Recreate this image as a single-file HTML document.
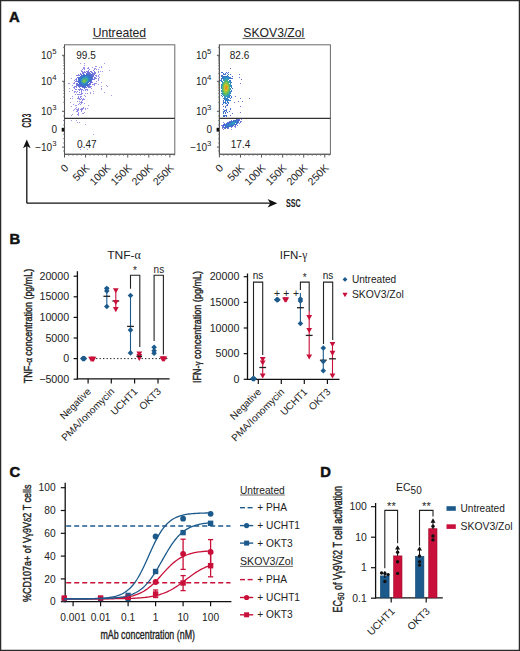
<!DOCTYPE html>
<html><head><meta charset="utf-8"><style>html,body{margin:0;padding:0;background:#fff;}svg{display:block;}</style></head>
<body>
<svg width="520" height="651" viewBox="0 0 520 651" font-family="Liberation Sans, sans-serif">
<defs><filter id="bl" x="-5%" y="-5%" width="110%" height="110%"><feGaussianBlur stdDeviation="0.6"/></filter></defs>
<rect x="0" y="0" width="520" height="651" fill="#fff"/>
<text x="9.00" y="22.00" font-size="14.8" text-anchor="start" font-weight="bold" fill="#111" stroke="#111" stroke-width="0.5">A</text>
<text x="119.40" y="36.80" font-size="12.2" text-anchor="middle" font-weight="normal" fill="#222" >Untreated</text>
<line x1="92.60" y1="38.40" x2="146.20" y2="38.40" stroke="#444" stroke-width="0.9" />
<g filter="url(#bl)">
<rect x="109" y="70" width="1" height="1" fill="#a49be9"/>
<rect x="111" y="95" width="1" height="1" fill="#a49be9"/>
<rect x="93" y="134" width="1" height="1" fill="#a49be9"/>
<rect x="85" y="124" width="1" height="1" fill="#a49be9"/>
<rect x="87" y="149" width="1" height="1" fill="#a49be9"/>
<rect x="71" y="120" width="1" height="1" fill="#a49be9"/>
<rect x="104" y="92" width="1" height="1" fill="#a49ae9"/>
<rect x="104" y="63" width="1" height="1" fill="#a49ae9"/>
<rect x="80" y="63" width="1" height="1" fill="#a49ae9"/>
<rect x="80" y="149" width="1" height="1" fill="#a39ae9"/>
<rect x="82" y="146" width="1" height="1" fill="#a39ae9"/>
<rect x="71" y="78" width="1" height="1" fill="#a39ae9"/>
<rect x="88" y="105" width="1" height="1" fill="#a39ae9"/>
<rect x="101" y="82" width="1" height="1" fill="#a39ae9"/>
<rect x="70" y="102" width="1" height="1" fill="#a39ae9"/>
<rect x="69" y="91" width="1" height="1" fill="#a39ae9"/>
<rect x="69" y="88" width="1" height="1" fill="#a39ae9"/>
<rect x="76" y="120" width="1" height="1" fill="#a299e8"/>
<rect x="71" y="106" width="1" height="1" fill="#a299e8"/>
<rect x="79" y="122" width="1" height="1" fill="#a299e8"/>
<rect x="84" y="63" width="1" height="1" fill="#a299e8"/>
<rect x="102" y="71" width="1" height="1" fill="#a199e8"/>
<rect x="70" y="98" width="1" height="1" fill="#a198e8"/>
<rect x="101" y="86" width="1" height="1" fill="#a198e8"/>
<rect x="93" y="91" width="1" height="1" fill="#a198e8"/>
<rect x="107" y="86" width="1" height="1" fill="#a198e8"/>
<rect x="106" y="85" width="1" height="1" fill="#a198e8"/>
<rect x="71" y="115" width="1" height="1" fill="#a198e8"/>
<rect x="72" y="96" width="1" height="1" fill="#a198e8"/>
<rect x="93" y="93" width="1" height="1" fill="#a198e8"/>
<rect x="72" y="114" width="1" height="1" fill="#a198e8"/>
<rect x="77" y="122" width="1" height="1" fill="#a198e8"/>
<rect x="98" y="84" width="1" height="1" fill="#a098e8"/>
<rect x="68" y="83" width="1" height="1" fill="#a097e8"/>
<rect x="72" y="98" width="1" height="1" fill="#a097e8"/>
<rect x="84" y="103" width="1" height="1" fill="#a097e8"/>
<rect x="87" y="108" width="1" height="1" fill="#a097e8"/>
<rect x="101" y="89" width="1" height="1" fill="#a097e8"/>
<rect x="69" y="83" width="1" height="1" fill="#a097e8"/>
<rect x="90" y="93" width="1" height="1" fill="#9f96e7"/>
<rect x="101" y="66" width="1" height="1" fill="#9f96e7"/>
<rect x="101" y="88" width="1" height="1" fill="#9f96e7"/>
<rect x="90" y="92" width="1" height="1" fill="#9f96e7"/>
<rect x="73" y="110" width="1" height="1" fill="#9e96e7"/>
<rect x="101" y="67" width="1" height="1" fill="#9e96e7"/>
<rect x="99" y="67" width="1" height="1" fill="#9e96e7"/>
<rect x="92" y="67" width="1" height="1" fill="#9e96e7"/>
<rect x="85" y="96" width="1" height="1" fill="#9e95e7"/>
<rect x="87" y="93" width="1" height="1" fill="#9e95e7"/>
<rect x="84" y="65" width="1" height="1" fill="#9e95e7"/>
<rect x="72" y="90" width="1" height="1" fill="#9e95e7"/>
<rect x="100" y="71" width="1" height="1" fill="#9d95e7"/>
<rect x="84" y="112" width="1" height="1" fill="#9d95e7"/>
<rect x="77" y="101" width="1" height="1" fill="#9d95e7"/>
<rect x="96" y="66" width="1" height="1" fill="#9d95e7"/>
<rect x="73" y="104" width="1" height="1" fill="#9d95e7"/>
<rect x="75" y="94" width="1" height="1" fill="#9d94e7"/>
<rect x="98" y="69" width="1" height="1" fill="#9c94e7"/>
<rect x="83" y="113" width="1" height="1" fill="#9c94e7"/>
<rect x="95" y="66" width="1" height="1" fill="#9c94e7"/>
<rect x="78" y="115" width="1" height="1" fill="#9b93e6"/>
<rect x="82" y="113" width="1" height="1" fill="#9b93e6"/>
<rect x="84" y="95" width="1" height="1" fill="#9b93e6"/>
<rect x="75" y="105" width="1" height="1" fill="#9b93e6"/>
<rect x="98" y="80" width="1" height="1" fill="#9a93e6"/>
<rect x="85" y="109" width="1" height="1" fill="#9a93e6"/>
<rect x="98" y="71" width="1" height="1" fill="#9a92e6"/>
<rect x="98" y="72" width="1" height="1" fill="#9a92e6"/>
<rect x="99" y="74" width="1" height="1" fill="#9a92e6"/>
<rect x="76" y="105" width="1" height="1" fill="#9a92e6"/>
<rect x="85" y="93" width="1" height="1" fill="#9a92e6"/>
<rect x="88" y="67" width="1" height="1" fill="#9a92e6"/>
<rect x="91" y="88" width="1" height="1" fill="#9a92e6"/>
<rect x="85" y="108" width="1" height="1" fill="#9a92e6"/>
<rect x="74" y="109" width="1" height="1" fill="#9992e6"/>
<rect x="84" y="99" width="1" height="1" fill="#9992e6"/>
<rect x="96" y="81" width="1" height="1" fill="#9992e6"/>
<rect x="72" y="85" width="1" height="1" fill="#9991e6"/>
<rect x="77" y="114" width="1" height="1" fill="#9991e6"/>
<rect x="74" y="92" width="1" height="1" fill="#9891e6"/>
<rect x="78" y="114" width="1" height="1" fill="#9790e5"/>
<rect x="78" y="104" width="1" height="1" fill="#9790e5"/>
<rect x="76" y="107" width="1" height="1" fill="#9790e5"/>
<rect x="96" y="69" width="1" height="1" fill="#9790e5"/>
<rect x="80" y="104" width="1" height="1" fill="#978fe5"/>
<rect x="94" y="85" width="1" height="1" fill="#978fe5"/>
<rect x="98" y="79" width="1" height="1" fill="#978fe5"/>
<rect x="77" y="94" width="1" height="1" fill="#978fe5"/>
<rect x="75" y="108" width="1" height="1" fill="#968fe5"/>
<rect x="77" y="98" width="1" height="1" fill="#968fe5"/>
<rect x="96" y="83" width="1" height="1" fill="#968fe5"/>
<rect x="73" y="83" width="1" height="1" fill="#968fe5"/>
<rect x="87" y="68" width="1" height="1" fill="#968fe5"/>
<rect x="84" y="67" width="1" height="1" fill="#968ee5"/>
<rect x="83" y="67" width="1" height="1" fill="#958ee5"/>
<rect x="87" y="90" width="1" height="1" fill="#958ee5"/>
<rect x="83" y="98" width="1" height="1" fill="#958ee5"/>
<rect x="78" y="113" width="1" height="1" fill="#958ee5"/>
<rect x="76" y="92" width="1" height="1" fill="#958ee5"/>
<rect x="74" y="91" width="1" height="1" fill="#958ee5"/>
<rect x="95" y="68" width="1" height="1" fill="#958ee5"/>
<rect x="83" y="107" width="1" height="1" fill="#958ee5"/>
<rect x="76" y="75" width="1" height="1" fill="#958ee5"/>
<rect x="82" y="102" width="1" height="1" fill="#948de4"/>
<rect x="78" y="108" width="1" height="1" fill="#948de4"/>
<rect x="99" y="77" width="1" height="1" fill="#948de4"/>
<rect x="83" y="99" width="1" height="1" fill="#948de4"/>
<rect x="88" y="68" width="1" height="1" fill="#948de4"/>
<rect x="73" y="87" width="1" height="1" fill="#948de4"/>
<rect x="94" y="68" width="1" height="1" fill="#948de4"/>
<rect x="79" y="101" width="1" height="1" fill="#948de4"/>
<rect x="81" y="103" width="1" height="1" fill="#948de4"/>
<rect x="79" y="103" width="1" height="1" fill="#948de4"/>
<rect x="98" y="75" width="1" height="1" fill="#938ce4"/>
<rect x="81" y="70" width="1" height="1" fill="#938ce4"/>
<rect x="78" y="112" width="1" height="1" fill="#938ce4"/>
<rect x="84" y="68" width="1" height="1" fill="#938ce4"/>
<rect x="98" y="78" width="1" height="1" fill="#938ce4"/>
<rect x="78" y="94" width="1" height="1" fill="#938ce4"/>
<rect x="77" y="91" width="1" height="1" fill="#928ce4"/>
<rect x="81" y="111" width="1" height="1" fill="#928ce4"/>
<rect x="75" y="91" width="1" height="1" fill="#928ce4"/>
<rect x="78" y="96" width="1" height="1" fill="#928be4"/>
<rect x="95" y="83" width="1" height="1" fill="#928be4"/>
<rect x="76" y="111" width="1" height="1" fill="#928be4"/>
<rect x="82" y="93" width="1" height="1" fill="#928be4"/>
<rect x="84" y="69" width="1" height="1" fill="#928be4"/>
<rect x="81" y="96" width="1" height="1" fill="#928be4"/>
<rect x="83" y="68" width="1" height="1" fill="#928be4"/>
<rect x="82" y="69" width="1" height="1" fill="#928be4"/>
<rect x="82" y="100" width="1" height="1" fill="#928be4"/>
<rect x="94" y="84" width="1" height="1" fill="#918ae3"/>
<rect x="81" y="102" width="1" height="1" fill="#918ae3"/>
<rect x="82" y="99" width="1" height="1" fill="#918ae3"/>
<rect x="80" y="102" width="1" height="1" fill="#918ae3"/>
<rect x="74" y="80" width="1" height="1" fill="#908ae3"/>
<rect x="98" y="76" width="1" height="1" fill="#908ae3"/>
<rect x="81" y="101" width="1" height="1" fill="#908ae3"/>
<rect x="76" y="109" width="1" height="1" fill="#908ae3"/>
<rect x="91" y="86" width="1" height="1" fill="#908ae3"/>
<rect x="78" y="97" width="1" height="1" fill="#9089e3"/>
<rect x="93" y="84" width="1" height="1" fill="#9089e3"/>
<rect x="78" y="109" width="1" height="1" fill="#8f89e3"/>
<rect x="83" y="108" width="1" height="1" fill="#8f89e3"/>
<rect x="94" y="83" width="1" height="1" fill="#8f89e3"/>
<rect x="78" y="98" width="1" height="1" fill="#8f89e3"/>
<rect x="96" y="78" width="1" height="1" fill="#8f89e3"/>
<rect x="79" y="94" width="1" height="1" fill="#8f89e3"/>
<rect x="81" y="98" width="1" height="1" fill="#8f89e3"/>
<rect x="74" y="88" width="1" height="1" fill="#8f89e3"/>
<rect x="89" y="69" width="1" height="1" fill="#8f89e3"/>
<rect x="77" y="111" width="1" height="1" fill="#8f89e3"/>
<rect x="80" y="96" width="1" height="1" fill="#8f89e3"/>
<rect x="94" y="69" width="1" height="1" fill="#8f88e3"/>
<rect x="81" y="71" width="1" height="1" fill="#8f88e3"/>
<rect x="87" y="89" width="1" height="1" fill="#8f88e3"/>
<rect x="85" y="90" width="1" height="1" fill="#8e88e3"/>
<rect x="74" y="83" width="1" height="1" fill="#8e88e3"/>
<rect x="80" y="109" width="1" height="1" fill="#8e88e3"/>
<rect x="74" y="82" width="1" height="1" fill="#8e88e3"/>
<rect x="79" y="99" width="1" height="1" fill="#8e88e3"/>
<rect x="78" y="110" width="1" height="1" fill="#8e88e3"/>
<rect x="81" y="94" width="1" height="1" fill="#8e88e3"/>
<rect x="77" y="109" width="1" height="1" fill="#8e88e3"/>
<rect x="76" y="89" width="1" height="1" fill="#8e88e3"/>
<rect x="74" y="87" width="1" height="1" fill="#8e88e3"/>
<rect x="74" y="86" width="1" height="1" fill="#8e88e3"/>
<rect x="96" y="75" width="1" height="1" fill="#8e88e3"/>
<rect x="79" y="92" width="1" height="1" fill="#8e88e3"/>
<rect x="83" y="90" width="1" height="1" fill="#8e88e3"/>
<rect x="80" y="99" width="1" height="1" fill="#8e88e3"/>
<rect x="81" y="108" width="1" height="1" fill="#8e88e3"/>
<rect x="75" y="89" width="1" height="1" fill="#8d87e2"/>
<rect x="80" y="97" width="1" height="1" fill="#8d87e2"/>
<rect x="81" y="110" width="1" height="1" fill="#8d87e2"/>
<rect x="81" y="93" width="1" height="1" fill="#8d87e2"/>
<rect x="80" y="94" width="1" height="1" fill="#8d87e2"/>
<rect x="92" y="84" width="1" height="1" fill="#8d87e2"/>
<rect x="77" y="110" width="1" height="1" fill="#8d87e2"/>
<rect x="96" y="76" width="1" height="1" fill="#8d87e2"/>
<rect x="81" y="92" width="1" height="1" fill="#8d87e2"/>
<rect x="90" y="87" width="1" height="1" fill="#8c86e2"/>
<rect x="82" y="108" width="1" height="1" fill="#8c86e2"/>
<rect x="79" y="98" width="1" height="1" fill="#8c86e2"/>
<rect x="78" y="89" width="1" height="1" fill="#8c86e2"/>
<rect x="81" y="109" width="1" height="1" fill="#8b85e2"/>
<rect x="82" y="109" width="1" height="1" fill="#8b85e2"/>
<rect x="81" y="91" width="1" height="1" fill="#8a85e2"/>
<rect x="82" y="71" width="1" height="1" fill="#8a84e1"/>
<rect x="95" y="78" width="1" height="1" fill="#8984e1"/>
<rect x="77" y="75" width="1" height="1" fill="#8984e1"/>
<rect x="84" y="71" width="1" height="1" fill="#8983e1"/>
<rect x="79" y="90" width="1" height="1" fill="#8983e1"/>
<rect x="75" y="79" width="1" height="1" fill="#8983e1"/>
<rect x="86" y="89" width="1" height="1" fill="#8883e1"/>
<rect x="78" y="74" width="1" height="1" fill="#8883e1"/>
<rect x="75" y="86" width="1" height="1" fill="#8882e1"/>
<rect x="95" y="72" width="1" height="1" fill="#8782e1"/>
<rect x="76" y="87" width="1" height="1" fill="#8782e1"/>
<rect x="93" y="70" width="1" height="1" fill="#8782e1"/>
<rect x="95" y="77" width="1" height="1" fill="#8782e1"/>
<rect x="81" y="90" width="1" height="1" fill="#8782e1"/>
<rect x="79" y="89" width="1" height="1" fill="#8681e0"/>
<rect x="95" y="75" width="1" height="1" fill="#8681e0"/>
<rect x="94" y="79" width="1" height="1" fill="#8681e0"/>
<rect x="95" y="73" width="1" height="1" fill="#8681e0"/>
<rect x="90" y="86" width="1" height="1" fill="#8681e0"/>
<rect x="82" y="89" width="1" height="1" fill="#8581e0"/>
<rect x="88" y="70" width="1" height="1" fill="#8581e0"/>
<rect x="89" y="87" width="1" height="1" fill="#8481e0"/>
<rect x="75" y="81" width="1" height="1" fill="#8480e0"/>
<rect x="81" y="89" width="1" height="1" fill="#8480e0"/>
<rect x="85" y="89" width="1" height="1" fill="#8480e0"/>
<rect x="80" y="89" width="1" height="1" fill="#8380e0"/>
<rect x="94" y="71" width="1" height="1" fill="#8280df"/>
<rect x="80" y="73" width="1" height="1" fill="#827fdf"/>
<rect x="86" y="71" width="1" height="1" fill="#817fdf"/>
<rect x="82" y="72" width="1" height="1" fill="#817fdf"/>
<rect x="94" y="78" width="1" height="1" fill="#807fdf"/>
<rect x="80" y="88" width="1" height="1" fill="#807fdf"/>
<rect x="76" y="86" width="1" height="1" fill="#7f7edf"/>
<rect x="92" y="82" width="1" height="1" fill="#7f7ede"/>
<rect x="91" y="71" width="1" height="1" fill="#7f7ede"/>
<rect x="76" y="78" width="1" height="1" fill="#7e7ede"/>
<rect x="94" y="77" width="1" height="1" fill="#7e7dde"/>
<rect x="83" y="72" width="1" height="1" fill="#7d7dde"/>
<rect x="90" y="71" width="1" height="1" fill="#7d7dde"/>
<rect x="94" y="72" width="1" height="1" fill="#7d7dde"/>
<rect x="88" y="87" width="1" height="1" fill="#7d7dde"/>
<rect x="78" y="75" width="1" height="1" fill="#7c7dde"/>
<rect x="84" y="72" width="1" height="1" fill="#7c7dde"/>
<rect x="87" y="71" width="1" height="1" fill="#7b7cdd"/>
<rect x="89" y="86" width="1" height="1" fill="#7b7cdd"/>
<rect x="94" y="73" width="1" height="1" fill="#7a7cdd"/>
<rect x="90" y="84" width="1" height="1" fill="#7a7cdd"/>
<rect x="94" y="74" width="1" height="1" fill="#7a7cdd"/>
<rect x="85" y="72" width="1" height="1" fill="#797cdd"/>
<rect x="88" y="71" width="1" height="1" fill="#797bdd"/>
<rect x="76" y="79" width="1" height="1" fill="#787bdd"/>
<rect x="79" y="87" width="1" height="1" fill="#787bdc"/>
<rect x="76" y="85" width="1" height="1" fill="#777bdc"/>
<rect x="76" y="81" width="1" height="1" fill="#767adc"/>
<rect x="93" y="79" width="1" height="1" fill="#767adc"/>
<rect x="76" y="80" width="1" height="1" fill="#767adc"/>
<rect x="92" y="72" width="1" height="1" fill="#757adc"/>
<rect x="76" y="83" width="1" height="1" fill="#7479dc"/>
<rect x="76" y="84" width="1" height="1" fill="#7479db"/>
<rect x="91" y="72" width="1" height="1" fill="#7479db"/>
<rect x="89" y="85" width="1" height="1" fill="#7379db"/>
<rect x="80" y="74" width="1" height="1" fill="#7278db"/>
<rect x="93" y="73" width="1" height="1" fill="#7278db"/>
<rect x="84" y="88" width="1" height="1" fill="#7278db"/>
<rect x="77" y="77" width="1" height="1" fill="#7278db"/>
<rect x="82" y="73" width="1" height="1" fill="#7178db"/>
<rect x="88" y="86" width="1" height="1" fill="#6f77da"/>
<rect x="79" y="75" width="1" height="1" fill="#6e77da"/>
<rect x="93" y="76" width="1" height="1" fill="#6e77da"/>
<rect x="93" y="74" width="1" height="1" fill="#6e77da"/>
<rect x="87" y="72" width="1" height="1" fill="#6e76da"/>
<rect x="90" y="83" width="1" height="1" fill="#6e76da"/>
<rect x="91" y="82" width="1" height="1" fill="#6e76da"/>
<rect x="89" y="72" width="1" height="1" fill="#6e76da"/>
<rect x="93" y="75" width="1" height="1" fill="#6d76da"/>
<rect x="78" y="86" width="1" height="1" fill="#6d76da"/>
<rect x="92" y="73" width="1" height="1" fill="#6d76d9"/>
<rect x="88" y="72" width="1" height="1" fill="#6c76d9"/>
<rect x="83" y="73" width="1" height="1" fill="#6b75d9"/>
<rect x="86" y="87" width="1" height="1" fill="#6b75d9"/>
<rect x="89" y="84" width="1" height="1" fill="#6a75d9"/>
<rect x="77" y="85" width="1" height="1" fill="#6a75d9"/>
<rect x="82" y="87" width="1" height="1" fill="#6974d8"/>
<rect x="81" y="74" width="1" height="1" fill="#6773d8"/>
<rect x="79" y="86" width="1" height="1" fill="#6773d8"/>
<rect x="92" y="74" width="1" height="1" fill="#6572d7"/>
<rect x="77" y="83" width="1" height="1" fill="#6572d7"/>
<rect x="77" y="84" width="1" height="1" fill="#6572d7"/>
<rect x="90" y="73" width="1" height="1" fill="#6472d7"/>
<rect x="77" y="81" width="1" height="1" fill="#6371d7"/>
<rect x="88" y="85" width="1" height="1" fill="#6371d7"/>
<rect x="87" y="86" width="1" height="1" fill="#6371d7"/>
<rect x="80" y="86" width="1" height="1" fill="#6271d6"/>
<rect x="92" y="75" width="1" height="1" fill="#6170d6"/>
<rect x="85" y="87" width="1" height="1" fill="#6170d6"/>
<rect x="86" y="73" width="1" height="1" fill="#6170d6"/>
<rect x="89" y="73" width="1" height="1" fill="#6070d6"/>
<rect x="83" y="87" width="1" height="1" fill="#5f70d6"/>
<rect x="92" y="76" width="1" height="1" fill="#5f70d6"/>
<rect x="78" y="85" width="1" height="1" fill="#5f70d6"/>
<rect x="92" y="77" width="1" height="1" fill="#5e6fd5"/>
<rect x="91" y="74" width="1" height="1" fill="#5e6fd5"/>
<rect x="92" y="79" width="1" height="1" fill="#5e6fd5"/>
<rect x="87" y="73" width="1" height="1" fill="#5d6fd5"/>
<rect x="88" y="73" width="1" height="1" fill="#5d6fd5"/>
<rect x="91" y="81" width="1" height="1" fill="#5c6ed5"/>
<rect x="84" y="87" width="1" height="1" fill="#5c6ed5"/>
<rect x="92" y="78" width="1" height="1" fill="#5c6ed5"/>
<rect x="89" y="83" width="1" height="1" fill="#5c6ed5"/>
<rect x="90" y="82" width="1" height="1" fill="#5b6ed5"/>
<rect x="81" y="86" width="1" height="1" fill="#5a6dd4"/>
<rect x="78" y="77" width="1" height="1" fill="#5a6dd4"/>
<rect x="78" y="84" width="1" height="1" fill="#586cd4"/>
<rect x="79" y="85" width="1" height="1" fill="#566cd3"/>
<rect x="90" y="74" width="1" height="1" fill="#566bd3"/>
<rect x="88" y="84" width="1" height="1" fill="#556bd3"/>
<rect x="91" y="75" width="1" height="1" fill="#556bd3"/>
<rect x="78" y="82" width="1" height="1" fill="#526ad2"/>
<rect x="83" y="74" width="1" height="1" fill="#5169d2"/>
<rect x="87" y="85" width="1" height="1" fill="#5169d2"/>
<rect x="82" y="86" width="1" height="1" fill="#4f69d1"/>
<rect x="81" y="75" width="1" height="1" fill="#4f69d1"/>
<rect x="91" y="76" width="1" height="1" fill="#4f69d1"/>
<rect x="89" y="74" width="1" height="1" fill="#4f69d1"/>
<rect x="80" y="85" width="1" height="1" fill="#4e69d1"/>
<rect x="78" y="81" width="1" height="1" fill="#4e69d1"/>
<rect x="79" y="84" width="1" height="1" fill="#4e69d1"/>
<rect x="91" y="80" width="1" height="1" fill="#4d6ad1"/>
<rect x="84" y="74" width="1" height="1" fill="#4d6ad1"/>
<rect x="85" y="86" width="1" height="1" fill="#4d6ad1"/>
<rect x="78" y="78" width="1" height="1" fill="#4d6ad1"/>
<rect x="91" y="77" width="1" height="1" fill="#4c6ad0"/>
<rect x="88" y="74" width="1" height="1" fill="#4c6ad0"/>
<rect x="80" y="76" width="1" height="1" fill="#4c6ad0"/>
<rect x="90" y="75" width="1" height="1" fill="#4c6ad0"/>
<rect x="78" y="80" width="1" height="1" fill="#4b6bd0"/>
<rect x="83" y="86" width="1" height="1" fill="#4b6bd0"/>
<rect x="79" y="83" width="1" height="1" fill="#4a6bd0"/>
<rect x="87" y="74" width="1" height="1" fill="#4a6bd0"/>
<rect x="84" y="86" width="1" height="1" fill="#4a6bd0"/>
<rect x="86" y="74" width="1" height="1" fill="#4a6bd0"/>
<rect x="78" y="79" width="1" height="1" fill="#4a6bd0"/>
<rect x="90" y="81" width="1" height="1" fill="#4a6bd0"/>
<rect x="79" y="77" width="1" height="1" fill="#496ccf"/>
<rect x="91" y="78" width="1" height="1" fill="#496ccf"/>
<rect x="91" y="79" width="1" height="1" fill="#496ccf"/>
<rect x="81" y="85" width="1" height="1" fill="#486ccf"/>
<rect x="86" y="85" width="1" height="1" fill="#486ccf"/>
<rect x="82" y="75" width="1" height="1" fill="#476dcf"/>
<rect x="79" y="82" width="1" height="1" fill="#476dcf"/>
<rect x="87" y="84" width="1" height="1" fill="#476dcf"/>
<rect x="90" y="76" width="1" height="1" fill="#466dce"/>
<rect x="80" y="84" width="1" height="1" fill="#466dce"/>
<rect x="89" y="75" width="1" height="1" fill="#456ece"/>
<rect x="79" y="81" width="1" height="1" fill="#426fcd"/>
<rect x="81" y="76" width="1" height="1" fill="#426fcd"/>
<rect x="82" y="85" width="1" height="1" fill="#426fcd"/>
<rect x="85" y="85" width="1" height="1" fill="#426fcd"/>
<rect x="90" y="77" width="1" height="1" fill="#426fcd"/>
<rect x="83" y="75" width="1" height="1" fill="#4170cd"/>
<rect x="79" y="78" width="1" height="1" fill="#4070cc"/>
<rect x="90" y="80" width="1" height="1" fill="#4070cc"/>
<rect x="80" y="83" width="1" height="1" fill="#3f71cc"/>
<rect x="88" y="75" width="1" height="1" fill="#3f71cc"/>
<rect x="80" y="77" width="1" height="1" fill="#3f71cc"/>
<rect x="84" y="85" width="1" height="1" fill="#3e71cc"/>
<rect x="83" y="85" width="1" height="1" fill="#3e71cc"/>
<rect x="79" y="80" width="1" height="1" fill="#3e71cc"/>
<rect x="89" y="81" width="1" height="1" fill="#3e71cc"/>
<rect x="90" y="78" width="1" height="1" fill="#3e71cc"/>
<rect x="79" y="79" width="1" height="1" fill="#3d72cb"/>
<rect x="88" y="82" width="1" height="1" fill="#3d72cb"/>
<rect x="89" y="76" width="1" height="1" fill="#3c72cb"/>
<rect x="84" y="75" width="1" height="1" fill="#3c72cb"/>
<rect x="81" y="84" width="1" height="1" fill="#3c72cb"/>
<rect x="90" y="79" width="1" height="1" fill="#3c72cb"/>
<rect x="86" y="84" width="1" height="1" fill="#3c72cb"/>
<rect x="87" y="75" width="1" height="1" fill="#3b73cb"/>
<rect x="87" y="83" width="1" height="1" fill="#3b73cb"/>
<rect x="85" y="75" width="1" height="1" fill="#3974ca"/>
<rect x="82" y="76" width="1" height="1" fill="#3974ca"/>
<rect x="80" y="82" width="1" height="1" fill="#3974ca"/>
<rect x="86" y="75" width="1" height="1" fill="#3974ca"/>
<rect x="89" y="77" width="1" height="1" fill="#3675c9"/>
<rect x="81" y="77" width="1" height="1" fill="#3576c9"/>
<rect x="80" y="78" width="1" height="1" fill="#3576c9"/>
<rect x="89" y="80" width="1" height="1" fill="#3476c8"/>
<rect x="85" y="84" width="1" height="1" fill="#3476c8"/>
<rect x="82" y="84" width="1" height="1" fill="#3476c8"/>
<rect x="80" y="81" width="1" height="1" fill="#3377c8"/>
<rect x="88" y="76" width="1" height="1" fill="#3377c8"/>
<rect x="83" y="76" width="1" height="1" fill="#3377c8"/>
<rect x="89" y="78" width="1" height="1" fill="#3277c8"/>
<rect x="81" y="83" width="1" height="1" fill="#3278c7"/>
<rect x="89" y="79" width="1" height="1" fill="#3279c7"/>
<rect x="84" y="84" width="1" height="1" fill="#327ac7"/>
<rect x="83" y="84" width="1" height="1" fill="#327bc7"/>
<rect x="88" y="81" width="1" height="1" fill="#327bc7"/>
<rect x="80" y="79" width="1" height="1" fill="#327bc7"/>
<rect x="80" y="80" width="1" height="1" fill="#327bc7"/>
<rect x="84" y="76" width="1" height="1" fill="#327fc6"/>
<rect x="86" y="83" width="1" height="1" fill="#3280c5"/>
<rect x="87" y="82" width="1" height="1" fill="#3281c5"/>
<rect x="82" y="77" width="1" height="1" fill="#3281c5"/>
<rect x="87" y="76" width="1" height="1" fill="#3282c5"/>
<rect x="88" y="77" width="1" height="1" fill="#3284c4"/>
<rect x="85" y="76" width="1" height="1" fill="#3286c4"/>
<rect x="81" y="78" width="1" height="1" fill="#3286c4"/>
<rect x="86" y="76" width="1" height="1" fill="#3288c3"/>
<rect x="81" y="82" width="1" height="1" fill="#328bc3"/>
<rect x="88" y="80" width="1" height="1" fill="#328bc3"/>
<rect x="83" y="77" width="1" height="1" fill="#328cc2"/>
<rect x="88" y="78" width="1" height="1" fill="#328dc2"/>
<rect x="82" y="83" width="1" height="1" fill="#328fc2"/>
<rect x="88" y="79" width="1" height="1" fill="#3290c1"/>
<rect x="85" y="83" width="1" height="1" fill="#3292c1"/>
<rect x="84" y="77" width="1" height="1" fill="#3294c0"/>
<rect x="81" y="79" width="1" height="1" fill="#3295c0"/>
<rect x="87" y="77" width="1" height="1" fill="#3296c0"/>
<rect x="87" y="81" width="1" height="1" fill="#3297c0"/>
<rect x="82" y="78" width="1" height="1" fill="#3298bf"/>
<rect x="81" y="81" width="1" height="1" fill="#3299bf"/>
<rect x="85" y="77" width="1" height="1" fill="#329bbf"/>
<rect x="86" y="82" width="1" height="1" fill="#329cbe"/>
<rect x="84" y="83" width="1" height="1" fill="#329cbe"/>
<rect x="83" y="83" width="1" height="1" fill="#329cbe"/>
<rect x="81" y="80" width="1" height="1" fill="#329cbe"/>
<rect x="86" y="77" width="1" height="1" fill="#329ebe"/>
<rect x="87" y="78" width="1" height="1" fill="#34a1b8"/>
<rect x="83" y="78" width="1" height="1" fill="#36a2b3"/>
<rect x="87" y="80" width="1" height="1" fill="#37a3b0"/>
<rect x="87" y="79" width="1" height="1" fill="#3aa5aa"/>
<rect x="84" y="78" width="1" height="1" fill="#3da7a4"/>
<rect x="82" y="82" width="1" height="1" fill="#3fa8a0"/>
<rect x="86" y="78" width="1" height="1" fill="#40a99c"/>
<rect x="85" y="78" width="1" height="1" fill="#41a99b"/>
<rect x="82" y="79" width="1" height="1" fill="#43aa97"/>
<rect x="86" y="81" width="1" height="1" fill="#46ac8f"/>
<rect x="85" y="82" width="1" height="1" fill="#46ad8e"/>
<rect x="86" y="79" width="1" height="1" fill="#4cb082"/>
<rect x="86" y="80" width="1" height="1" fill="#50b379"/>
<rect x="82" y="81" width="1" height="1" fill="#54b571"/>
<rect x="83" y="79" width="1" height="1" fill="#54b570"/>
<rect x="82" y="80" width="1" height="1" fill="#54b56f"/>
<rect x="85" y="79" width="1" height="1" fill="#54b56f"/>
<rect x="83" y="82" width="1" height="1" fill="#55b66d"/>
<rect x="84" y="82" width="1" height="1" fill="#56b76b"/>
<rect x="84" y="79" width="1" height="1" fill="#58b867"/>
<rect x="85" y="81" width="1" height="1" fill="#63bb5e"/>
<rect x="85" y="80" width="1" height="1" fill="#69bc5a"/>
<rect x="83" y="80" width="1" height="1" fill="#7cc050"/>
<rect x="84" y="80" width="1" height="1" fill="#7fc14e"/>
<rect x="83" y="81" width="1" height="1" fill="#80c14e"/>
<rect x="84" y="81" width="1" height="1" fill="#82c14c"/>
</g>
<rect x="64.50" y="44.80" width="110.30" height="109.50" fill="none" stroke="#6a6a6a" stroke-width="1"/>
<line x1="64.50" y1="44.80" x2="64.50" y2="154.30" stroke="#555" stroke-width="1.1" />
<line x1="64.50" y1="154.30" x2="174.80" y2="154.30" stroke="#555" stroke-width="1.1" />
<line x1="64.50" y1="118.40" x2="174.80" y2="118.40" stroke="#333" stroke-width="1.2" />
<line x1="62.00" y1="55.30" x2="64.50" y2="55.30" stroke="#555" stroke-width="1" />
<text x="52.20" y="58.80" font-size="10.0" text-anchor="end" font-weight="normal" fill="#222" >10</text>
<text x="52.20" y="54.30" font-size="7.7" text-anchor="start" font-weight="normal" fill="#222" >5</text>
<line x1="62.00" y1="81.30" x2="64.50" y2="81.30" stroke="#555" stroke-width="1" />
<text x="52.20" y="84.80" font-size="10.0" text-anchor="end" font-weight="normal" fill="#222" >10</text>
<text x="52.20" y="80.30" font-size="7.7" text-anchor="start" font-weight="normal" fill="#222" >4</text>
<line x1="62.00" y1="111.30" x2="64.50" y2="111.30" stroke="#555" stroke-width="1" />
<text x="52.20" y="114.80" font-size="10.0" text-anchor="end" font-weight="normal" fill="#222" >10</text>
<text x="52.20" y="110.30" font-size="7.7" text-anchor="start" font-weight="normal" fill="#222" >3</text>
<line x1="63.00" y1="73.47" x2="64.50" y2="73.47" stroke="#777" stroke-width="0.8" />
<line x1="63.00" y1="68.89" x2="64.50" y2="68.89" stroke="#777" stroke-width="0.8" />
<line x1="63.00" y1="65.65" x2="64.50" y2="65.65" stroke="#777" stroke-width="0.8" />
<line x1="63.00" y1="63.13" x2="64.50" y2="63.13" stroke="#777" stroke-width="0.8" />
<line x1="63.00" y1="61.07" x2="64.50" y2="61.07" stroke="#777" stroke-width="0.8" />
<line x1="63.00" y1="59.33" x2="64.50" y2="59.33" stroke="#777" stroke-width="0.8" />
<line x1="63.00" y1="57.82" x2="64.50" y2="57.82" stroke="#777" stroke-width="0.8" />
<line x1="63.00" y1="56.49" x2="64.50" y2="56.49" stroke="#777" stroke-width="0.8" />
<line x1="63.00" y1="102.27" x2="64.50" y2="102.27" stroke="#777" stroke-width="0.8" />
<line x1="63.00" y1="96.99" x2="64.50" y2="96.99" stroke="#777" stroke-width="0.8" />
<line x1="63.00" y1="93.24" x2="64.50" y2="93.24" stroke="#777" stroke-width="0.8" />
<line x1="63.00" y1="90.33" x2="64.50" y2="90.33" stroke="#777" stroke-width="0.8" />
<line x1="63.00" y1="87.96" x2="64.50" y2="87.96" stroke="#777" stroke-width="0.8" />
<line x1="63.00" y1="85.95" x2="64.50" y2="85.95" stroke="#777" stroke-width="0.8" />
<line x1="63.00" y1="84.21" x2="64.50" y2="84.21" stroke="#777" stroke-width="0.8" />
<line x1="63.00" y1="82.67" x2="64.50" y2="82.67" stroke="#777" stroke-width="0.8" />
<line x1="63.00" y1="47.47" x2="64.50" y2="47.47" stroke="#777" stroke-width="0.8" />
<line x1="63.00" y1="116.00" x2="64.50" y2="116.00" stroke="#777" stroke-width="0.8" />
<line x1="63.00" y1="120.50" x2="64.50" y2="120.50" stroke="#777" stroke-width="0.8" />
<line x1="63.00" y1="125.00" x2="64.50" y2="125.00" stroke="#777" stroke-width="0.8" />
<line x1="63.00" y1="134.30" x2="64.50" y2="134.30" stroke="#777" stroke-width="0.8" />
<line x1="63.00" y1="138.70" x2="64.50" y2="138.70" stroke="#777" stroke-width="0.8" />
<line x1="63.00" y1="143.00" x2="64.50" y2="143.00" stroke="#777" stroke-width="0.8" />
<line x1="63.00" y1="151.00" x2="64.50" y2="151.00" stroke="#777" stroke-width="0.8" />
<line x1="62.00" y1="129.80" x2="64.50" y2="129.80" stroke="#555" stroke-width="1" />
<text x="57.10" y="133.30" font-size="10.0" text-anchor="end" font-weight="normal" fill="#222" >0</text>
<line x1="62.00" y1="147.10" x2="64.50" y2="147.10" stroke="#555" stroke-width="1" />
<text x="52.20" y="150.60" font-size="10.0" text-anchor="end" font-weight="normal" fill="#222" >−10</text>
<text x="52.20" y="146.10" font-size="7.7" text-anchor="start" font-weight="normal" fill="#222" >3</text>
<rect x="61.70" y="127.8" width="2.4" height="3.8" fill="#111"/>
<line x1="64.50" y1="154.30" x2="64.50" y2="157.50" stroke="#555" stroke-width="1" />
<line x1="68.72" y1="154.30" x2="68.72" y2="155.90" stroke="#777" stroke-width="0.8" />
<line x1="72.93" y1="154.30" x2="72.93" y2="155.90" stroke="#777" stroke-width="0.8" />
<line x1="77.15" y1="154.30" x2="77.15" y2="155.90" stroke="#777" stroke-width="0.8" />
<line x1="81.36" y1="154.30" x2="81.36" y2="155.90" stroke="#777" stroke-width="0.8" />
<line x1="85.58" y1="154.30" x2="85.58" y2="157.50" stroke="#555" stroke-width="1" />
<line x1="89.80" y1="154.30" x2="89.80" y2="155.90" stroke="#777" stroke-width="0.8" />
<line x1="94.01" y1="154.30" x2="94.01" y2="155.90" stroke="#777" stroke-width="0.8" />
<line x1="98.23" y1="154.30" x2="98.23" y2="155.90" stroke="#777" stroke-width="0.8" />
<line x1="102.44" y1="154.30" x2="102.44" y2="155.90" stroke="#777" stroke-width="0.8" />
<line x1="106.66" y1="154.30" x2="106.66" y2="157.50" stroke="#555" stroke-width="1" />
<line x1="110.88" y1="154.30" x2="110.88" y2="155.90" stroke="#777" stroke-width="0.8" />
<line x1="115.09" y1="154.30" x2="115.09" y2="155.90" stroke="#777" stroke-width="0.8" />
<line x1="119.31" y1="154.30" x2="119.31" y2="155.90" stroke="#777" stroke-width="0.8" />
<line x1="123.52" y1="154.30" x2="123.52" y2="155.90" stroke="#777" stroke-width="0.8" />
<line x1="127.74" y1="154.30" x2="127.74" y2="157.50" stroke="#555" stroke-width="1" />
<line x1="131.96" y1="154.30" x2="131.96" y2="155.90" stroke="#777" stroke-width="0.8" />
<line x1="136.17" y1="154.30" x2="136.17" y2="155.90" stroke="#777" stroke-width="0.8" />
<line x1="140.39" y1="154.30" x2="140.39" y2="155.90" stroke="#777" stroke-width="0.8" />
<line x1="144.60" y1="154.30" x2="144.60" y2="155.90" stroke="#777" stroke-width="0.8" />
<line x1="148.82" y1="154.30" x2="148.82" y2="157.50" stroke="#555" stroke-width="1" />
<line x1="153.04" y1="154.30" x2="153.04" y2="155.90" stroke="#777" stroke-width="0.8" />
<line x1="157.25" y1="154.30" x2="157.25" y2="155.90" stroke="#777" stroke-width="0.8" />
<line x1="161.47" y1="154.30" x2="161.47" y2="155.90" stroke="#777" stroke-width="0.8" />
<line x1="165.68" y1="154.30" x2="165.68" y2="155.90" stroke="#777" stroke-width="0.8" />
<line x1="169.90" y1="154.30" x2="169.90" y2="157.50" stroke="#555" stroke-width="1" />
<line x1="174.12" y1="154.30" x2="174.12" y2="155.90" stroke="#777" stroke-width="0.8" />
<text transform="translate(69.10,168.60) rotate(-45)" font-size="10.5" text-anchor="end" fill="#222">0</text>
<text transform="translate(90.18,168.60) rotate(-45)" font-size="10.5" text-anchor="end" fill="#222">50K</text>
<text transform="translate(111.26,168.60) rotate(-45)" font-size="10.5" text-anchor="end" fill="#222">100K</text>
<text transform="translate(132.34,168.60) rotate(-45)" font-size="10.5" text-anchor="end" fill="#222">150K</text>
<text transform="translate(153.42,168.60) rotate(-45)" font-size="10.5" text-anchor="end" fill="#222">200K</text>
<text transform="translate(174.50,168.60) rotate(-45)" font-size="10.5" text-anchor="end" fill="#222">250K</text>
<text x="76.30" y="59.00" font-size="10" text-anchor="start" font-weight="normal" fill="#222" >99.5</text>
<text x="77.10" y="147.60" font-size="10" text-anchor="start" font-weight="normal" fill="#222" >0.47</text>
<text x="273.80" y="36.80" font-size="12.2" text-anchor="middle" font-weight="normal" fill="#222" >SKOV3/Zol</text>
<line x1="242.50" y1="38.40" x2="305.10" y2="38.40" stroke="#444" stroke-width="0.9" />
<g filter="url(#bl)">
<rect x="249" y="98" width="1" height="1" fill="#6974d8"/>
<rect x="240" y="112" width="1" height="1" fill="#6974d8"/>
<rect x="240" y="106" width="1" height="1" fill="#6974d8"/>
<rect x="230" y="68" width="1" height="1" fill="#6974d8"/>
<rect x="240" y="83" width="1" height="1" fill="#6874d8"/>
<rect x="234" y="102" width="1" height="1" fill="#6874d8"/>
<rect x="235" y="96" width="1" height="1" fill="#6873d8"/>
<rect x="242" y="101" width="1" height="1" fill="#6773d8"/>
<rect x="238" y="101" width="1" height="1" fill="#6773d8"/>
<rect x="240" y="98" width="1" height="1" fill="#6773d8"/>
<rect x="239" y="74" width="1" height="1" fill="#6673d8"/>
<rect x="241" y="79" width="1" height="1" fill="#6572d7"/>
<rect x="232" y="113" width="1" height="1" fill="#6472d7"/>
<rect x="239" y="77" width="1" height="1" fill="#6372d7"/>
<rect x="230" y="115" width="1" height="1" fill="#6371d7"/>
<rect x="230" y="108" width="1" height="1" fill="#5a6dd4"/>
<rect x="229" y="111" width="1" height="1" fill="#576cd4"/>
<rect x="230" y="109" width="1" height="1" fill="#576cd3"/>
<rect x="221" y="72" width="1" height="1" fill="#5169d2"/>
<rect x="232" y="76" width="1" height="1" fill="#4f69d1"/>
<rect x="230" y="74" width="1" height="1" fill="#4e69d1"/>
<rect x="228" y="72" width="1" height="1" fill="#4d6ad1"/>
<rect x="222" y="72" width="1" height="1" fill="#4d6ad1"/>
<rect x="223" y="106" width="1" height="1" fill="#4b6bd0"/>
<rect x="227" y="112" width="1" height="1" fill="#4a6bd0"/>
<rect x="225" y="107" width="1" height="1" fill="#4a6bd0"/>
<rect x="232" y="78" width="1" height="1" fill="#4a6bd0"/>
<rect x="226" y="72" width="1" height="1" fill="#496ccf"/>
<rect x="225" y="106" width="1" height="1" fill="#496ccf"/>
<rect x="227" y="105" width="1" height="1" fill="#486ccf"/>
<rect x="222" y="104" width="1" height="1" fill="#486ccf"/>
<rect x="226" y="109" width="1" height="1" fill="#486ccf"/>
<rect x="223" y="109" width="1" height="1" fill="#486ccf"/>
<rect x="226" y="105" width="1" height="1" fill="#466dce"/>
<rect x="223" y="73" width="1" height="1" fill="#456ece"/>
<rect x="221" y="75" width="1" height="1" fill="#446ece"/>
<rect x="226" y="110" width="1" height="1" fill="#446ece"/>
<rect x="227" y="104" width="1" height="1" fill="#436fcd"/>
<rect x="230" y="100" width="1" height="1" fill="#436fcd"/>
<rect x="227" y="73" width="1" height="1" fill="#436fcd"/>
<rect x="226" y="111" width="1" height="1" fill="#426fcd"/>
<rect x="231" y="97" width="1" height="1" fill="#426fcd"/>
<rect x="228" y="103" width="1" height="1" fill="#426fcd"/>
<rect x="225" y="73" width="1" height="1" fill="#426fcd"/>
<rect x="226" y="116" width="1" height="1" fill="#4170cd"/>
<rect x="220" y="80" width="1" height="1" fill="#4170cd"/>
<rect x="223" y="116" width="1" height="1" fill="#4170cd"/>
<rect x="226" y="115" width="1" height="1" fill="#4170cd"/>
<rect x="231" y="96" width="1" height="1" fill="#4070cc"/>
<rect x="221" y="76" width="1" height="1" fill="#4070cc"/>
<rect x="231" y="78" width="1" height="1" fill="#4070cc"/>
<rect x="228" y="74" width="1" height="1" fill="#4070cc"/>
<rect x="223" y="74" width="1" height="1" fill="#4070cc"/>
<rect x="225" y="110" width="1" height="1" fill="#3f71cc"/>
<rect x="225" y="113" width="1" height="1" fill="#3f71cc"/>
<rect x="223" y="115" width="1" height="1" fill="#3f71cc"/>
<rect x="223" y="103" width="1" height="1" fill="#3e71cc"/>
<rect x="232" y="88" width="1" height="1" fill="#3e71cc"/>
<rect x="224" y="110" width="1" height="1" fill="#3e71cc"/>
<rect x="222" y="75" width="1" height="1" fill="#3e71cc"/>
<rect x="225" y="112" width="1" height="1" fill="#3e71cc"/>
<rect x="223" y="111" width="1" height="1" fill="#3d72cb"/>
<rect x="224" y="74" width="1" height="1" fill="#3d72cb"/>
<rect x="223" y="113" width="1" height="1" fill="#3d72cb"/>
<rect x="228" y="102" width="1" height="1" fill="#3d72cb"/>
<rect x="224" y="116" width="1" height="1" fill="#3d72cb"/>
<rect x="223" y="102" width="1" height="1" fill="#3c72cb"/>
<rect x="230" y="98" width="1" height="1" fill="#3c72cb"/>
<rect x="223" y="101" width="1" height="1" fill="#3c72cb"/>
<rect x="225" y="115" width="1" height="1" fill="#3c72cb"/>
<rect x="223" y="112" width="1" height="1" fill="#3c72cb"/>
<rect x="226" y="103" width="1" height="1" fill="#3b73cb"/>
<rect x="225" y="103" width="1" height="1" fill="#3b73cb"/>
<rect x="221" y="78" width="1" height="1" fill="#3b73cb"/>
<rect x="225" y="74" width="1" height="1" fill="#3b73cb"/>
<rect x="223" y="100" width="1" height="1" fill="#3b73cb"/>
<rect x="229" y="100" width="1" height="1" fill="#3b73cb"/>
<rect x="224" y="115" width="1" height="1" fill="#3b73cb"/>
<rect x="224" y="111" width="1" height="1" fill="#3b73cb"/>
<rect x="230" y="77" width="1" height="1" fill="#3a73ca"/>
<rect x="222" y="76" width="1" height="1" fill="#3a73ca"/>
<rect x="224" y="102" width="1" height="1" fill="#3874ca"/>
<rect x="221" y="79" width="1" height="1" fill="#3874ca"/>
<rect x="227" y="102" width="1" height="1" fill="#3874ca"/>
<rect x="230" y="78" width="1" height="1" fill="#3775c9"/>
<rect x="225" y="102" width="1" height="1" fill="#3775c9"/>
<rect x="221" y="95" width="1" height="1" fill="#3675c9"/>
<rect x="222" y="77" width="1" height="1" fill="#3675c9"/>
<rect x="221" y="80" width="1" height="1" fill="#3576c9"/>
<rect x="223" y="76" width="1" height="1" fill="#3576c9"/>
<rect x="228" y="100" width="1" height="1" fill="#3576c9"/>
<rect x="231" y="82" width="1" height="1" fill="#3476c8"/>
<rect x="227" y="101" width="1" height="1" fill="#3476c8"/>
<rect x="227" y="75" width="1" height="1" fill="#3476c8"/>
<rect x="223" y="98" width="1" height="1" fill="#3476c8"/>
<rect x="230" y="95" width="1" height="1" fill="#3377c8"/>
<rect x="225" y="101" width="1" height="1" fill="#3377c8"/>
<rect x="231" y="91" width="1" height="1" fill="#3377c8"/>
<rect x="221" y="81" width="1" height="1" fill="#3377c8"/>
<rect x="228" y="99" width="1" height="1" fill="#3377c8"/>
<rect x="229" y="77" width="1" height="1" fill="#3277c8"/>
<rect x="222" y="78" width="1" height="1" fill="#3277c8"/>
<rect x="224" y="76" width="1" height="1" fill="#3277c8"/>
<rect x="224" y="99" width="1" height="1" fill="#3277c8"/>
<rect x="228" y="76" width="1" height="1" fill="#3278c7"/>
<rect x="227" y="100" width="1" height="1" fill="#3278c7"/>
<rect x="231" y="90" width="1" height="1" fill="#3278c7"/>
<rect x="225" y="100" width="1" height="1" fill="#3279c7"/>
<rect x="230" y="80" width="1" height="1" fill="#3279c7"/>
<rect x="229" y="97" width="1" height="1" fill="#327ac7"/>
<rect x="226" y="100" width="1" height="1" fill="#327ac7"/>
<rect x="223" y="77" width="1" height="1" fill="#327ac7"/>
<rect x="222" y="96" width="1" height="1" fill="#327bc7"/>
<rect x="227" y="99" width="1" height="1" fill="#327bc7"/>
<rect x="225" y="99" width="1" height="1" fill="#327dc6"/>
<rect x="225" y="76" width="1" height="1" fill="#327dc6"/>
<rect x="226" y="99" width="1" height="1" fill="#327dc6"/>
<rect x="229" y="78" width="1" height="1" fill="#327ec6"/>
<rect x="231" y="85" width="1" height="1" fill="#327ec6"/>
<rect x="224" y="98" width="1" height="1" fill="#327fc6"/>
<rect x="227" y="76" width="1" height="1" fill="#327fc6"/>
<rect x="231" y="87" width="1" height="1" fill="#3280c5"/>
<rect x="231" y="86" width="1" height="1" fill="#3280c5"/>
<rect x="230" y="93" width="1" height="1" fill="#3281c5"/>
<rect x="227" y="98" width="1" height="1" fill="#3281c5"/>
<rect x="226" y="76" width="1" height="1" fill="#3281c5"/>
<rect x="229" y="96" width="1" height="1" fill="#3281c5"/>
<rect x="230" y="81" width="1" height="1" fill="#3283c5"/>
<rect x="228" y="77" width="1" height="1" fill="#3283c5"/>
<rect x="224" y="77" width="1" height="1" fill="#3283c5"/>
<rect x="226" y="98" width="1" height="1" fill="#3283c5"/>
<rect x="225" y="98" width="1" height="1" fill="#3283c5"/>
<rect x="228" y="97" width="1" height="1" fill="#3285c4"/>
<rect x="221" y="93" width="1" height="1" fill="#3285c4"/>
<rect x="223" y="78" width="1" height="1" fill="#3285c4"/>
<rect x="229" y="95" width="1" height="1" fill="#3287c4"/>
<rect x="230" y="82" width="1" height="1" fill="#328ac3"/>
<rect x="230" y="92" width="1" height="1" fill="#328ac3"/>
<rect x="225" y="77" width="1" height="1" fill="#328ac3"/>
<rect x="221" y="84" width="1" height="1" fill="#328bc3"/>
<rect x="224" y="97" width="1" height="1" fill="#328bc3"/>
<rect x="227" y="77" width="1" height="1" fill="#328bc3"/>
<rect x="227" y="97" width="1" height="1" fill="#328cc2"/>
<rect x="228" y="78" width="1" height="1" fill="#328dc2"/>
<rect x="226" y="77" width="1" height="1" fill="#328ec2"/>
<rect x="222" y="81" width="1" height="1" fill="#328ec2"/>
<rect x="229" y="80" width="1" height="1" fill="#328ec2"/>
<rect x="228" y="96" width="1" height="1" fill="#328ec2"/>
<rect x="229" y="94" width="1" height="1" fill="#328fc2"/>
<rect x="230" y="83" width="1" height="1" fill="#328fc2"/>
<rect x="223" y="79" width="1" height="1" fill="#328fc2"/>
<rect x="225" y="97" width="1" height="1" fill="#3290c1"/>
<rect x="224" y="78" width="1" height="1" fill="#3290c1"/>
<rect x="221" y="91" width="1" height="1" fill="#3291c1"/>
<rect x="221" y="85" width="1" height="1" fill="#3292c1"/>
<rect x="230" y="91" width="1" height="1" fill="#3293c1"/>
<rect x="221" y="90" width="1" height="1" fill="#3293c1"/>
<rect x="222" y="94" width="1" height="1" fill="#3295c0"/>
<rect x="230" y="84" width="1" height="1" fill="#3296c0"/>
<rect x="228" y="79" width="1" height="1" fill="#3296c0"/>
<rect x="221" y="86" width="1" height="1" fill="#3297c0"/>
<rect x="227" y="78" width="1" height="1" fill="#3297c0"/>
<rect x="228" y="95" width="1" height="1" fill="#3298bf"/>
<rect x="221" y="88" width="1" height="1" fill="#3298bf"/>
<rect x="225" y="78" width="1" height="1" fill="#3298bf"/>
<rect x="222" y="82" width="1" height="1" fill="#3299bf"/>
<rect x="229" y="93" width="1" height="1" fill="#3299bf"/>
<rect x="227" y="96" width="1" height="1" fill="#3299bf"/>
<rect x="221" y="87" width="1" height="1" fill="#3299bf"/>
<rect x="229" y="81" width="1" height="1" fill="#3299bf"/>
<rect x="223" y="80" width="1" height="1" fill="#3299bf"/>
<rect x="226" y="78" width="1" height="1" fill="#329bbf"/>
<rect x="224" y="96" width="1" height="1" fill="#329bbf"/>
<rect x="230" y="89" width="1" height="1" fill="#329cbe"/>
<rect x="223" y="95" width="1" height="1" fill="#329cbe"/>
<rect x="230" y="85" width="1" height="1" fill="#329dbe"/>
<rect x="224" y="79" width="1" height="1" fill="#329dbe"/>
<rect x="230" y="88" width="1" height="1" fill="#329ebe"/>
<rect x="226" y="96" width="1" height="1" fill="#32a0bc"/>
<rect x="230" y="86" width="1" height="1" fill="#32a0bb"/>
<rect x="229" y="82" width="1" height="1" fill="#33a1ba"/>
<rect x="222" y="93" width="1" height="1" fill="#33a1b9"/>
<rect x="225" y="96" width="1" height="1" fill="#34a1b8"/>
<rect x="228" y="94" width="1" height="1" fill="#35a1b6"/>
<rect x="227" y="79" width="1" height="1" fill="#35a2b5"/>
<rect x="222" y="83" width="1" height="1" fill="#36a2b3"/>
<rect x="229" y="92" width="1" height="1" fill="#37a3b1"/>
<rect x="225" y="79" width="1" height="1" fill="#39a4ad"/>
<rect x="227" y="95" width="1" height="1" fill="#39a4ad"/>
<rect x="226" y="79" width="1" height="1" fill="#3ca6a7"/>
<rect x="224" y="80" width="1" height="1" fill="#3ca6a5"/>
<rect x="223" y="94" width="1" height="1" fill="#3ea7a2"/>
<rect x="222" y="92" width="1" height="1" fill="#3fa89f"/>
<rect x="224" y="95" width="1" height="1" fill="#3fa89f"/>
<rect x="222" y="84" width="1" height="1" fill="#40a89d"/>
<rect x="228" y="81" width="1" height="1" fill="#41a99a"/>
<rect x="228" y="93" width="1" height="1" fill="#42aa98"/>
<rect x="229" y="91" width="1" height="1" fill="#44ab94"/>
<rect x="227" y="80" width="1" height="1" fill="#44ab94"/>
<rect x="226" y="95" width="1" height="1" fill="#44ab93"/>
<rect x="229" y="84" width="1" height="1" fill="#45ac92"/>
<rect x="222" y="91" width="1" height="1" fill="#46ac8f"/>
<rect x="222" y="85" width="1" height="1" fill="#46ad8e"/>
<rect x="225" y="95" width="1" height="1" fill="#47ad8d"/>
<rect x="227" y="94" width="1" height="1" fill="#47ad8c"/>
<rect x="225" y="80" width="1" height="1" fill="#48ad8c"/>
<rect x="223" y="82" width="1" height="1" fill="#48ad8c"/>
<rect x="222" y="90" width="1" height="1" fill="#4aaf87"/>
<rect x="226" y="80" width="1" height="1" fill="#4baf85"/>
<rect x="222" y="86" width="1" height="1" fill="#4bb083"/>
<rect x="222" y="89" width="1" height="1" fill="#4cb083"/>
<rect x="224" y="81" width="1" height="1" fill="#4cb082"/>
<rect x="228" y="82" width="1" height="1" fill="#4cb082"/>
<rect x="223" y="93" width="1" height="1" fill="#4db17f"/>
<rect x="229" y="90" width="1" height="1" fill="#4eb17e"/>
<rect x="222" y="88" width="1" height="1" fill="#4eb17e"/>
<rect x="222" y="87" width="1" height="1" fill="#4eb17d"/>
<rect x="224" y="94" width="1" height="1" fill="#4fb27b"/>
<rect x="229" y="85" width="1" height="1" fill="#50b378"/>
<rect x="228" y="92" width="1" height="1" fill="#51b376"/>
<rect x="227" y="81" width="1" height="1" fill="#53b473"/>
<rect x="229" y="89" width="1" height="1" fill="#53b571"/>
<rect x="226" y="94" width="1" height="1" fill="#54b570"/>
<rect x="228" y="83" width="1" height="1" fill="#55b66e"/>
<rect x="227" y="93" width="1" height="1" fill="#57b76a"/>
<rect x="229" y="88" width="1" height="1" fill="#57b76a"/>
<rect x="225" y="94" width="1" height="1" fill="#57b769"/>
<rect x="223" y="83" width="1" height="1" fill="#57b769"/>
<rect x="229" y="86" width="1" height="1" fill="#57b768"/>
<rect x="225" y="81" width="1" height="1" fill="#58b767"/>
<rect x="229" y="87" width="1" height="1" fill="#59b865"/>
<rect x="226" y="81" width="1" height="1" fill="#5bb963"/>
<rect x="223" y="92" width="1" height="1" fill="#5cb962"/>
<rect x="224" y="82" width="1" height="1" fill="#62ba5f"/>
<rect x="224" y="93" width="1" height="1" fill="#64bb5e"/>
<rect x="227" y="82" width="1" height="1" fill="#65bb5d"/>
<rect x="228" y="91" width="1" height="1" fill="#67bb5c"/>
<rect x="228" y="84" width="1" height="1" fill="#68bc5b"/>
<rect x="223" y="84" width="1" height="1" fill="#6abc5a"/>
<rect x="226" y="93" width="1" height="1" fill="#6dbd58"/>
<rect x="223" y="91" width="1" height="1" fill="#6fbd57"/>
<rect x="227" y="92" width="1" height="1" fill="#72be55"/>
<rect x="225" y="93" width="1" height="1" fill="#73be55"/>
<rect x="223" y="85" width="1" height="1" fill="#76bf53"/>
<rect x="225" y="82" width="1" height="1" fill="#78bf52"/>
<rect x="223" y="90" width="1" height="1" fill="#79bf52"/>
<rect x="226" y="82" width="1" height="1" fill="#79bf51"/>
<rect x="227" y="83" width="1" height="1" fill="#7bc050"/>
<rect x="223" y="86" width="1" height="1" fill="#7dc04f"/>
<rect x="223" y="89" width="1" height="1" fill="#7dc04f"/>
<rect x="228" y="90" width="1" height="1" fill="#7dc04f"/>
<rect x="223" y="88" width="1" height="1" fill="#80c14d"/>
<rect x="223" y="87" width="1" height="1" fill="#81c14d"/>
<rect x="224" y="92" width="1" height="1" fill="#81c14d"/>
<rect x="228" y="85" width="1" height="1" fill="#83c14c"/>
<rect x="224" y="83" width="1" height="1" fill="#83c14c"/>
<rect x="228" y="89" width="1" height="1" fill="#8cc347"/>
<rect x="226" y="92" width="1" height="1" fill="#8cc347"/>
<rect x="227" y="91" width="1" height="1" fill="#8fc445"/>
<rect x="225" y="92" width="1" height="1" fill="#92c543"/>
<rect x="228" y="86" width="1" height="1" fill="#94c542"/>
<rect x="228" y="88" width="1" height="1" fill="#94c542"/>
<rect x="227" y="84" width="1" height="1" fill="#95c541"/>
<rect x="226" y="83" width="1" height="1" fill="#95c541"/>
<rect x="224" y="91" width="1" height="1" fill="#98c640"/>
<rect x="228" y="87" width="1" height="1" fill="#99c63f"/>
<rect x="225" y="83" width="1" height="1" fill="#99c63f"/>
<rect x="224" y="84" width="1" height="1" fill="#9bc63e"/>
<rect x="224" y="90" width="1" height="1" fill="#abc637"/>
<rect x="227" y="90" width="1" height="1" fill="#aec636"/>
<rect x="226" y="91" width="1" height="1" fill="#afc636"/>
<rect x="224" y="85" width="1" height="1" fill="#b1c635"/>
<rect x="225" y="91" width="1" height="1" fill="#b5c634"/>
<rect x="224" y="89" width="1" height="1" fill="#b9c532"/>
<rect x="227" y="85" width="1" height="1" fill="#bfc530"/>
<rect x="224" y="86" width="1" height="1" fill="#bfc530"/>
<rect x="226" y="84" width="1" height="1" fill="#c0c530"/>
<rect x="224" y="88" width="1" height="1" fill="#c0c530"/>
<rect x="224" y="87" width="1" height="1" fill="#c3c42f"/>
<rect x="225" y="84" width="1" height="1" fill="#c5c42e"/>
<rect x="227" y="89" width="1" height="1" fill="#ccc32b"/>
<rect x="226" y="90" width="1" height="1" fill="#d7c227"/>
<rect x="225" y="90" width="1" height="1" fill="#d7c227"/>
<rect x="227" y="88" width="1" height="1" fill="#d9ba26"/>
<rect x="227" y="86" width="1" height="1" fill="#d9b926"/>
<rect x="227" y="87" width="1" height="1" fill="#dbb124"/>
<rect x="225" y="85" width="1" height="1" fill="#dbb124"/>
<rect x="225" y="89" width="1" height="1" fill="#ddac23"/>
<rect x="226" y="85" width="1" height="1" fill="#ddac23"/>
<rect x="226" y="89" width="1" height="1" fill="#dea622"/>
<rect x="225" y="88" width="1" height="1" fill="#e0a021"/>
<rect x="225" y="86" width="1" height="1" fill="#e19d21"/>
<rect x="225" y="87" width="1" height="1" fill="#e29a20"/>
<rect x="226" y="88" width="1" height="1" fill="#e3941f"/>
<rect x="226" y="86" width="1" height="1" fill="#e4911f"/>
<rect x="226" y="87" width="1" height="1" fill="#e68c1e"/>
</g>
<g filter="url(#bl)">
<rect x="231" y="129" width="1" height="1" fill="#9a93e6"/>
<rect x="235" y="127" width="1" height="1" fill="#8e88e3"/>
<rect x="223" y="122" width="1" height="1" fill="#8d87e2"/>
<rect x="241" y="119" width="1" height="1" fill="#8a84e1"/>
<rect x="221" y="125" width="1" height="1" fill="#8782e1"/>
<rect x="223" y="129" width="1" height="1" fill="#8380e0"/>
<rect x="222" y="128" width="1" height="1" fill="#817fdf"/>
<rect x="241" y="121" width="1" height="1" fill="#7d7dde"/>
<rect x="237" y="125" width="1" height="1" fill="#7c7dde"/>
<rect x="235" y="126" width="1" height="1" fill="#797bdd"/>
<rect x="231" y="127" width="1" height="1" fill="#767adc"/>
<rect x="222" y="127" width="1" height="1" fill="#757adc"/>
<rect x="234" y="126" width="1" height="1" fill="#7278db"/>
<rect x="239" y="119" width="1" height="1" fill="#7278db"/>
<rect x="228" y="128" width="1" height="1" fill="#7278db"/>
<rect x="240" y="122" width="1" height="1" fill="#7077da"/>
<rect x="239" y="123" width="1" height="1" fill="#6e76da"/>
<rect x="222" y="126" width="1" height="1" fill="#6d76da"/>
<rect x="222" y="125" width="1" height="1" fill="#6b75d9"/>
<rect x="224" y="123" width="1" height="1" fill="#6974d8"/>
<rect x="240" y="121" width="1" height="1" fill="#6974d8"/>
<rect x="231" y="120" width="1" height="1" fill="#6874d8"/>
<rect x="227" y="122" width="1" height="1" fill="#6874d8"/>
<rect x="229" y="121" width="1" height="1" fill="#6673d8"/>
<rect x="238" y="119" width="1" height="1" fill="#6572d7"/>
<rect x="227" y="128" width="1" height="1" fill="#6572d7"/>
<rect x="232" y="126" width="1" height="1" fill="#5e6fd6"/>
<rect x="236" y="119" width="1" height="1" fill="#5e6fd6"/>
<rect x="237" y="119" width="1" height="1" fill="#5d6fd5"/>
<rect x="224" y="128" width="1" height="1" fill="#5d6fd5"/>
<rect x="239" y="120" width="1" height="1" fill="#5c6ed5"/>
<rect x="235" y="125" width="1" height="1" fill="#5b6ed5"/>
<rect x="223" y="127" width="1" height="1" fill="#5b6ed5"/>
<rect x="223" y="124" width="1" height="1" fill="#5a6dd4"/>
<rect x="225" y="128" width="1" height="1" fill="#596dd4"/>
<rect x="226" y="123" width="1" height="1" fill="#586cd4"/>
<rect x="228" y="122" width="1" height="1" fill="#536ad3"/>
<rect x="230" y="121" width="1" height="1" fill="#5069d2"/>
<rect x="223" y="126" width="1" height="1" fill="#5069d2"/>
<rect x="231" y="126" width="1" height="1" fill="#4f69d1"/>
<rect x="223" y="125" width="1" height="1" fill="#4e69d1"/>
<rect x="233" y="120" width="1" height="1" fill="#4e69d1"/>
<rect x="236" y="124" width="1" height="1" fill="#4d6ad1"/>
<rect x="238" y="120" width="1" height="1" fill="#4d6ad1"/>
<rect x="228" y="127" width="1" height="1" fill="#4c6ad0"/>
<rect x="224" y="124" width="1" height="1" fill="#4c6ad0"/>
<rect x="224" y="127" width="1" height="1" fill="#4a6bd0"/>
<rect x="227" y="123" width="1" height="1" fill="#496ccf"/>
<rect x="238" y="122" width="1" height="1" fill="#496ccf"/>
<rect x="234" y="120" width="1" height="1" fill="#476dcf"/>
<rect x="229" y="122" width="1" height="1" fill="#476dcf"/>
<rect x="225" y="124" width="1" height="1" fill="#476dcf"/>
<rect x="238" y="121" width="1" height="1" fill="#466dce"/>
<rect x="237" y="123" width="1" height="1" fill="#466dce"/>
<rect x="233" y="125" width="1" height="1" fill="#466dce"/>
<rect x="237" y="120" width="1" height="1" fill="#466dce"/>
<rect x="230" y="126" width="1" height="1" fill="#456ece"/>
<rect x="227" y="127" width="1" height="1" fill="#456ece"/>
<rect x="231" y="121" width="1" height="1" fill="#446ece"/>
<rect x="225" y="127" width="1" height="1" fill="#446ece"/>
<rect x="235" y="124" width="1" height="1" fill="#446ece"/>
<rect x="235" y="120" width="1" height="1" fill="#436fcd"/>
<rect x="236" y="120" width="1" height="1" fill="#436fcd"/>
<rect x="224" y="125" width="1" height="1" fill="#426fcd"/>
<rect x="226" y="127" width="1" height="1" fill="#426fcd"/>
<rect x="226" y="124" width="1" height="1" fill="#426fcd"/>
<rect x="232" y="125" width="1" height="1" fill="#3e71cc"/>
<rect x="236" y="123" width="1" height="1" fill="#3d72cb"/>
<rect x="237" y="122" width="1" height="1" fill="#3d72cb"/>
<rect x="228" y="123" width="1" height="1" fill="#3d72cb"/>
<rect x="237" y="121" width="1" height="1" fill="#3d72cb"/>
<rect x="229" y="126" width="1" height="1" fill="#3d72cb"/>
<rect x="230" y="122" width="1" height="1" fill="#3c72cb"/>
<rect x="225" y="125" width="1" height="1" fill="#3b73cb"/>
<rect x="225" y="126" width="1" height="1" fill="#3a73ca"/>
<rect x="232" y="121" width="1" height="1" fill="#3974ca"/>
<rect x="227" y="124" width="1" height="1" fill="#3874ca"/>
<rect x="231" y="125" width="1" height="1" fill="#3874ca"/>
<rect x="234" y="124" width="1" height="1" fill="#3775c9"/>
<rect x="228" y="126" width="1" height="1" fill="#3675c9"/>
<rect x="236" y="121" width="1" height="1" fill="#3675c9"/>
<rect x="226" y="125" width="1" height="1" fill="#3576c9"/>
<rect x="226" y="126" width="1" height="1" fill="#3576c9"/>
<rect x="236" y="122" width="1" height="1" fill="#3476c8"/>
<rect x="229" y="123" width="1" height="1" fill="#3476c8"/>
<rect x="227" y="126" width="1" height="1" fill="#3377c8"/>
<rect x="233" y="121" width="1" height="1" fill="#3278c7"/>
<rect x="235" y="121" width="1" height="1" fill="#3279c7"/>
<rect x="230" y="125" width="1" height="1" fill="#327bc7"/>
<rect x="231" y="122" width="1" height="1" fill="#327bc7"/>
<rect x="227" y="125" width="1" height="1" fill="#327dc6"/>
<rect x="234" y="121" width="1" height="1" fill="#327dc6"/>
<rect x="228" y="124" width="1" height="1" fill="#327fc6"/>
<rect x="230" y="123" width="1" height="1" fill="#3280c5"/>
<rect x="235" y="122" width="1" height="1" fill="#3283c5"/>
<rect x="233" y="124" width="1" height="1" fill="#3283c5"/>
<rect x="228" y="125" width="1" height="1" fill="#3285c4"/>
<rect x="229" y="125" width="1" height="1" fill="#3285c4"/>
<rect x="229" y="124" width="1" height="1" fill="#3289c3"/>
<rect x="230" y="124" width="1" height="1" fill="#328bc3"/>
<rect x="231" y="124" width="1" height="1" fill="#328bc3"/>
<rect x="232" y="124" width="1" height="1" fill="#328cc2"/>
<rect x="234" y="123" width="1" height="1" fill="#328dc2"/>
<rect x="231" y="123" width="1" height="1" fill="#3290c1"/>
<rect x="232" y="122" width="1" height="1" fill="#3293c1"/>
<rect x="234" y="122" width="1" height="1" fill="#3295c0"/>
<rect x="233" y="122" width="1" height="1" fill="#329ebe"/>
<rect x="232" y="123" width="1" height="1" fill="#33a1b9"/>
<rect x="233" y="123" width="1" height="1" fill="#35a1b7"/>
</g>
<rect x="219.40" y="44.80" width="111.00" height="109.50" fill="none" stroke="#6a6a6a" stroke-width="1"/>
<line x1="219.40" y1="44.80" x2="219.40" y2="154.30" stroke="#555" stroke-width="1.1" />
<line x1="219.40" y1="154.30" x2="330.40" y2="154.30" stroke="#555" stroke-width="1.1" />
<line x1="219.40" y1="118.40" x2="330.40" y2="118.40" stroke="#333" stroke-width="1.2" />
<line x1="216.90" y1="55.30" x2="219.40" y2="55.30" stroke="#555" stroke-width="1" />
<text x="207.10" y="58.80" font-size="10.0" text-anchor="end" font-weight="normal" fill="#222" >10</text>
<text x="207.10" y="54.30" font-size="7.7" text-anchor="start" font-weight="normal" fill="#222" >5</text>
<line x1="216.90" y1="81.30" x2="219.40" y2="81.30" stroke="#555" stroke-width="1" />
<text x="207.10" y="84.80" font-size="10.0" text-anchor="end" font-weight="normal" fill="#222" >10</text>
<text x="207.10" y="80.30" font-size="7.7" text-anchor="start" font-weight="normal" fill="#222" >4</text>
<line x1="216.90" y1="111.30" x2="219.40" y2="111.30" stroke="#555" stroke-width="1" />
<text x="207.10" y="114.80" font-size="10.0" text-anchor="end" font-weight="normal" fill="#222" >10</text>
<text x="207.10" y="110.30" font-size="7.7" text-anchor="start" font-weight="normal" fill="#222" >3</text>
<line x1="217.90" y1="73.47" x2="219.40" y2="73.47" stroke="#777" stroke-width="0.8" />
<line x1="217.90" y1="68.89" x2="219.40" y2="68.89" stroke="#777" stroke-width="0.8" />
<line x1="217.90" y1="65.65" x2="219.40" y2="65.65" stroke="#777" stroke-width="0.8" />
<line x1="217.90" y1="63.13" x2="219.40" y2="63.13" stroke="#777" stroke-width="0.8" />
<line x1="217.90" y1="61.07" x2="219.40" y2="61.07" stroke="#777" stroke-width="0.8" />
<line x1="217.90" y1="59.33" x2="219.40" y2="59.33" stroke="#777" stroke-width="0.8" />
<line x1="217.90" y1="57.82" x2="219.40" y2="57.82" stroke="#777" stroke-width="0.8" />
<line x1="217.90" y1="56.49" x2="219.40" y2="56.49" stroke="#777" stroke-width="0.8" />
<line x1="217.90" y1="102.27" x2="219.40" y2="102.27" stroke="#777" stroke-width="0.8" />
<line x1="217.90" y1="96.99" x2="219.40" y2="96.99" stroke="#777" stroke-width="0.8" />
<line x1="217.90" y1="93.24" x2="219.40" y2="93.24" stroke="#777" stroke-width="0.8" />
<line x1="217.90" y1="90.33" x2="219.40" y2="90.33" stroke="#777" stroke-width="0.8" />
<line x1="217.90" y1="87.96" x2="219.40" y2="87.96" stroke="#777" stroke-width="0.8" />
<line x1="217.90" y1="85.95" x2="219.40" y2="85.95" stroke="#777" stroke-width="0.8" />
<line x1="217.90" y1="84.21" x2="219.40" y2="84.21" stroke="#777" stroke-width="0.8" />
<line x1="217.90" y1="82.67" x2="219.40" y2="82.67" stroke="#777" stroke-width="0.8" />
<line x1="217.90" y1="47.47" x2="219.40" y2="47.47" stroke="#777" stroke-width="0.8" />
<line x1="217.90" y1="116.00" x2="219.40" y2="116.00" stroke="#777" stroke-width="0.8" />
<line x1="217.90" y1="120.50" x2="219.40" y2="120.50" stroke="#777" stroke-width="0.8" />
<line x1="217.90" y1="125.00" x2="219.40" y2="125.00" stroke="#777" stroke-width="0.8" />
<line x1="217.90" y1="134.30" x2="219.40" y2="134.30" stroke="#777" stroke-width="0.8" />
<line x1="217.90" y1="138.70" x2="219.40" y2="138.70" stroke="#777" stroke-width="0.8" />
<line x1="217.90" y1="143.00" x2="219.40" y2="143.00" stroke="#777" stroke-width="0.8" />
<line x1="217.90" y1="151.00" x2="219.40" y2="151.00" stroke="#777" stroke-width="0.8" />
<line x1="216.90" y1="129.80" x2="219.40" y2="129.80" stroke="#555" stroke-width="1" />
<text x="212.00" y="133.30" font-size="10.0" text-anchor="end" font-weight="normal" fill="#222" >0</text>
<line x1="216.90" y1="147.10" x2="219.40" y2="147.10" stroke="#555" stroke-width="1" />
<text x="207.10" y="150.60" font-size="10.0" text-anchor="end" font-weight="normal" fill="#222" >−10</text>
<text x="207.10" y="146.10" font-size="7.7" text-anchor="start" font-weight="normal" fill="#222" >3</text>
<rect x="216.60" y="127.8" width="2.4" height="3.8" fill="#111"/>
<line x1="219.40" y1="154.30" x2="219.40" y2="157.50" stroke="#555" stroke-width="1" />
<line x1="223.62" y1="154.30" x2="223.62" y2="155.90" stroke="#777" stroke-width="0.8" />
<line x1="227.83" y1="154.30" x2="227.83" y2="155.90" stroke="#777" stroke-width="0.8" />
<line x1="232.05" y1="154.30" x2="232.05" y2="155.90" stroke="#777" stroke-width="0.8" />
<line x1="236.26" y1="154.30" x2="236.26" y2="155.90" stroke="#777" stroke-width="0.8" />
<line x1="240.48" y1="154.30" x2="240.48" y2="157.50" stroke="#555" stroke-width="1" />
<line x1="244.70" y1="154.30" x2="244.70" y2="155.90" stroke="#777" stroke-width="0.8" />
<line x1="248.91" y1="154.30" x2="248.91" y2="155.90" stroke="#777" stroke-width="0.8" />
<line x1="253.13" y1="154.30" x2="253.13" y2="155.90" stroke="#777" stroke-width="0.8" />
<line x1="257.34" y1="154.30" x2="257.34" y2="155.90" stroke="#777" stroke-width="0.8" />
<line x1="261.56" y1="154.30" x2="261.56" y2="157.50" stroke="#555" stroke-width="1" />
<line x1="265.78" y1="154.30" x2="265.78" y2="155.90" stroke="#777" stroke-width="0.8" />
<line x1="269.99" y1="154.30" x2="269.99" y2="155.90" stroke="#777" stroke-width="0.8" />
<line x1="274.21" y1="154.30" x2="274.21" y2="155.90" stroke="#777" stroke-width="0.8" />
<line x1="278.42" y1="154.30" x2="278.42" y2="155.90" stroke="#777" stroke-width="0.8" />
<line x1="282.64" y1="154.30" x2="282.64" y2="157.50" stroke="#555" stroke-width="1" />
<line x1="286.86" y1="154.30" x2="286.86" y2="155.90" stroke="#777" stroke-width="0.8" />
<line x1="291.07" y1="154.30" x2="291.07" y2="155.90" stroke="#777" stroke-width="0.8" />
<line x1="295.29" y1="154.30" x2="295.29" y2="155.90" stroke="#777" stroke-width="0.8" />
<line x1="299.50" y1="154.30" x2="299.50" y2="155.90" stroke="#777" stroke-width="0.8" />
<line x1="303.72" y1="154.30" x2="303.72" y2="157.50" stroke="#555" stroke-width="1" />
<line x1="307.94" y1="154.30" x2="307.94" y2="155.90" stroke="#777" stroke-width="0.8" />
<line x1="312.15" y1="154.30" x2="312.15" y2="155.90" stroke="#777" stroke-width="0.8" />
<line x1="316.37" y1="154.30" x2="316.37" y2="155.90" stroke="#777" stroke-width="0.8" />
<line x1="320.58" y1="154.30" x2="320.58" y2="155.90" stroke="#777" stroke-width="0.8" />
<line x1="324.80" y1="154.30" x2="324.80" y2="157.50" stroke="#555" stroke-width="1" />
<line x1="329.02" y1="154.30" x2="329.02" y2="155.90" stroke="#777" stroke-width="0.8" />
<text transform="translate(224.00,168.60) rotate(-45)" font-size="10.5" text-anchor="end" fill="#222">0</text>
<text transform="translate(245.08,168.60) rotate(-45)" font-size="10.5" text-anchor="end" fill="#222">50K</text>
<text transform="translate(266.16,168.60) rotate(-45)" font-size="10.5" text-anchor="end" fill="#222">100K</text>
<text transform="translate(287.24,168.60) rotate(-45)" font-size="10.5" text-anchor="end" fill="#222">150K</text>
<text transform="translate(308.32,168.60) rotate(-45)" font-size="10.5" text-anchor="end" fill="#222">200K</text>
<text transform="translate(329.40,168.60) rotate(-45)" font-size="10.5" text-anchor="end" fill="#222">250K</text>
<text x="229.80" y="59.00" font-size="10" text-anchor="start" font-weight="normal" fill="#222" >82.6</text>
<text x="230.80" y="147.60" font-size="10" text-anchor="start" font-weight="normal" fill="#222" >17.4</text>
<line x1="26.80" y1="146.00" x2="26.80" y2="203.20" stroke="#111" stroke-width="1.3" />
<line x1="26.80" y1="203.20" x2="270.00" y2="203.20" stroke="#111" stroke-width="1.3" />
<path d="M26.8 139.4 L30.6 148.2 L26.8 146.0 L23.0 148.2 Z" fill="#111"/>
<path d="M277.3 203.2 L267.6 199.0 L270.2 203.2 L267.6 207.4 Z" fill="#111"/>
<text transform="translate(31.20,120.70) rotate(-90)" x="0" y="0" font-size="12.8" text-anchor="middle" font-weight="bold" fill="#222"  textLength="14.0" lengthAdjust="spacingAndGlyphs">CD3</text>
<text x="286" y="206.8" font-size="11.6" font-weight="bold" fill="#222" textLength="14.8" lengthAdjust="spacingAndGlyphs">SSC</text>
<text x="9.60" y="243.60" font-size="14.8" text-anchor="start" font-weight="bold" fill="#111" stroke="#111" stroke-width="0.5">B</text>
<line x1="77.40" y1="271.20" x2="77.40" y2="379.30" stroke="#111" stroke-width="1.3" />
<line x1="76.80" y1="378.80" x2="169.60" y2="378.80" stroke="#111" stroke-width="1.3" />
<line x1="73.60" y1="379.20" x2="77.40" y2="379.20" stroke="#111" stroke-width="1.2" />
<text x="69.20" y="382.80" font-size="10.7" text-anchor="end" font-weight="normal" fill="#222" >−5000</text>
<line x1="73.60" y1="358.60" x2="77.40" y2="358.60" stroke="#111" stroke-width="1.2" />
<text x="69.20" y="362.20" font-size="10.7" text-anchor="end" font-weight="normal" fill="#222" >0</text>
<line x1="73.60" y1="338.00" x2="77.40" y2="338.00" stroke="#111" stroke-width="1.2" />
<text x="69.20" y="341.60" font-size="10.7" text-anchor="end" font-weight="normal" fill="#222" >5000</text>
<line x1="73.60" y1="317.40" x2="77.40" y2="317.40" stroke="#111" stroke-width="1.2" />
<text x="69.20" y="321.00" font-size="10.7" text-anchor="end" font-weight="normal" fill="#222" >10000</text>
<line x1="73.60" y1="296.80" x2="77.40" y2="296.80" stroke="#111" stroke-width="1.2" />
<text x="69.20" y="300.40" font-size="10.7" text-anchor="end" font-weight="normal" fill="#222" >15000</text>
<line x1="73.60" y1="276.20" x2="77.40" y2="276.20" stroke="#111" stroke-width="1.2" />
<text x="69.20" y="279.80" font-size="10.7" text-anchor="end" font-weight="normal" fill="#222" >20000</text>
<line x1="88.10" y1="378.80" x2="88.10" y2="383.60" stroke="#111" stroke-width="1.2" />
<line x1="111.30" y1="378.80" x2="111.30" y2="383.60" stroke="#111" stroke-width="1.2" />
<line x1="134.60" y1="378.80" x2="134.60" y2="383.60" stroke="#111" stroke-width="1.2" />
<line x1="158.00" y1="378.80" x2="158.00" y2="383.60" stroke="#111" stroke-width="1.2" />
<text transform="translate(91.80,392.10) rotate(-45)" font-size="10" text-anchor="end" fill="#222">Negative</text>
<text transform="translate(115.00,392.10) rotate(-45)" font-size="10" text-anchor="end" fill="#222">PMA/Ionomycin</text>
<text transform="translate(138.30,392.10) rotate(-45)" font-size="10" text-anchor="end" fill="#222">UCHT1</text>
<text transform="translate(161.70,392.10) rotate(-45)" font-size="10" text-anchor="end" fill="#222">OKT3</text>
<line x1="96" y1="358.6" x2="168.5" y2="358.6" stroke="#222" stroke-width="1" stroke-dasharray="1.4 2.1"/>
<text x="124.00" y="258.70" font-size="11.8" text-anchor="middle" font-weight="normal" fill="#222" textLength="33.7" lengthAdjust="spacingAndGlyphs">TNF-<tspan font-family="Liberation Serif">α</tspan></text>
<text transform="translate(31.50,326.00) rotate(-90)" x="0" y="0" font-size="10.8" text-anchor="middle" font-weight="normal" fill="#222" stroke="#222" stroke-width="0.4" textLength="114.4" lengthAdjust="spacingAndGlyphs">TNF-<tspan font-family="Liberation Serif">α</tspan> concentration (pg/mL)</text>
<path d="M82.80 355.80L85.60 358.60L82.80 361.40L80.00 358.60Z" fill="#1c5a8c"/>
<path d="M83.60 355.80L86.40 358.60L83.60 361.40L80.80 358.60Z" fill="#1c5a8c"/>
<path d="M84.40 355.80L87.20 358.60L84.40 361.40L81.60 358.60Z" fill="#1c5a8c"/>
<path d="M88.20 356.82L94.00 356.82L91.10 361.90Z" fill="#c8103a"/>
<path d="M89.40 356.82L95.20 356.82L92.30 361.90Z" fill="#c8103a"/>
<path d="M90.60 356.82L96.40 356.82L93.50 361.90Z" fill="#c8103a"/>
<line x1="106.80" y1="287.40" x2="106.80" y2="306.50" stroke="#1c5a8c" stroke-width="1.1" />
<line x1="104.80" y1="287.40" x2="108.80" y2="287.40" stroke="#1c5a8c" stroke-width="1.1" />
<line x1="103.40" y1="296.30" x2="110.20" y2="296.30" stroke="#222" stroke-width="1.3" />
<path d="M106.80 285.80L109.60 288.60L106.80 291.40L104.00 288.60Z" fill="#1c5a8c"/>
<path d="M106.80 288.20L109.60 291.00L106.80 293.80L104.00 291.00Z" fill="#1c5a8c"/>
<path d="M106.80 303.70L109.60 306.50L106.80 309.30L104.00 306.50Z" fill="#1c5a8c"/>
<line x1="115.80" y1="289.00" x2="115.80" y2="309.30" stroke="#c8103a" stroke-width="1.1" />
<line x1="112.40" y1="301.00" x2="119.20" y2="301.00" stroke="#222" stroke-width="1.3" />
<path d="M112.90 288.22L118.70 288.22L115.80 293.30Z" fill="#c8103a"/>
<path d="M112.90 300.02L118.70 300.02L115.80 305.10Z" fill="#c8103a"/>
<path d="M112.90 307.12L118.70 307.12L115.80 312.20Z" fill="#c8103a"/>
<line x1="130.50" y1="295.50" x2="130.50" y2="352.90" stroke="#1c5a8c" stroke-width="1.1" />
<line x1="127.10" y1="326.40" x2="133.90" y2="326.40" stroke="#222" stroke-width="1.3" />
<path d="M130.50 292.70L133.30 295.50L130.50 298.30L127.70 295.50Z" fill="#1c5a8c"/>
<path d="M130.50 327.30L133.30 330.10L130.50 332.90L127.70 330.10Z" fill="#1c5a8c"/>
<path d="M130.50 350.10L133.30 352.90L130.50 355.70L127.70 352.90Z" fill="#1c5a8c"/>
<line x1="139.30" y1="353.00" x2="139.30" y2="358.00" stroke="#c8103a" stroke-width="1.1" />
<path d="M136.40 351.62L142.20 351.62L139.30 356.70Z" fill="#c8103a"/>
<path d="M136.40 354.12L142.20 354.12L139.30 359.20Z" fill="#c8103a"/>
<path d="M136.40 356.02L142.20 356.02L139.30 361.10Z" fill="#c8103a"/>
<line x1="136.50" y1="356.30" x2="142.10" y2="356.30" stroke="#222" stroke-width="1.3" />
<line x1="154.10" y1="346.00" x2="154.10" y2="353.50" stroke="#1c5a8c" stroke-width="1.1" />
<path d="M154.10 344.50L156.90 347.30L154.10 350.10L151.30 347.30Z" fill="#1c5a8c"/>
<path d="M154.10 348.00L156.90 350.80L154.10 353.60L151.30 350.80Z" fill="#1c5a8c"/>
<path d="M154.10 350.40L156.90 353.20L154.10 356.00L151.30 353.20Z" fill="#1c5a8c"/>
<path d="M159.50 356.62L165.30 356.62L162.40 361.70Z" fill="#c8103a"/>
<path d="M160.50 356.62L166.30 356.62L163.40 361.70Z" fill="#c8103a"/>
<path d="M161.50 356.62L167.30 356.62L164.40 361.70Z" fill="#c8103a"/>
<path d="M130.50 288.70L130.50 275.20L139.80 275.20L139.80 347.00" fill="none" stroke="#222" stroke-width="1.1"/>
<text x="135.00" y="273.60" font-size="10" text-anchor="middle" font-weight="normal" fill="#222" >*</text>
<path d="M154.10 341.10L154.10 275.20L163.40 275.20L163.40 354.60" fill="none" stroke="#222" stroke-width="1.1"/>
<text x="158.90" y="272.60" font-size="10" text-anchor="middle" font-weight="normal" fill="#222" >ns</text>
<line x1="247.50" y1="273.50" x2="247.50" y2="379.80" stroke="#111" stroke-width="1.3" />
<line x1="246.90" y1="379.30" x2="339.50" y2="379.30" stroke="#111" stroke-width="1.3" />
<line x1="243.70" y1="379.30" x2="247.50" y2="379.30" stroke="#111" stroke-width="1.2" />
<text x="239.40" y="382.90" font-size="10.7" text-anchor="end" font-weight="normal" fill="#222" >0</text>
<line x1="243.70" y1="353.65" x2="247.50" y2="353.65" stroke="#111" stroke-width="1.2" />
<text x="239.40" y="357.25" font-size="10.7" text-anchor="end" font-weight="normal" fill="#222" >5000</text>
<line x1="243.70" y1="328.00" x2="247.50" y2="328.00" stroke="#111" stroke-width="1.2" />
<text x="239.40" y="331.60" font-size="10.7" text-anchor="end" font-weight="normal" fill="#222" >10000</text>
<line x1="243.70" y1="302.35" x2="247.50" y2="302.35" stroke="#111" stroke-width="1.2" />
<text x="239.40" y="305.95" font-size="10.7" text-anchor="end" font-weight="normal" fill="#222" >15000</text>
<line x1="243.70" y1="276.70" x2="247.50" y2="276.70" stroke="#111" stroke-width="1.2" />
<text x="239.40" y="280.30" font-size="10.7" text-anchor="end" font-weight="normal" fill="#222" >20000</text>
<line x1="258.30" y1="379.30" x2="258.30" y2="383.90" stroke="#111" stroke-width="1.2" />
<line x1="281.30" y1="379.30" x2="281.30" y2="383.90" stroke="#111" stroke-width="1.2" />
<line x1="304.30" y1="379.30" x2="304.30" y2="383.90" stroke="#111" stroke-width="1.2" />
<line x1="327.40" y1="379.30" x2="327.40" y2="383.90" stroke="#111" stroke-width="1.2" />
<text transform="translate(262.00,392.50) rotate(-45)" font-size="10" text-anchor="end" fill="#222">Negative</text>
<text transform="translate(285.00,392.50) rotate(-45)" font-size="10" text-anchor="end" fill="#222">PMA/Ionomycin</text>
<text transform="translate(308.00,392.50) rotate(-45)" font-size="10" text-anchor="end" fill="#222">UCHT1</text>
<text transform="translate(331.10,392.50) rotate(-45)" font-size="10" text-anchor="end" fill="#222">OKT3</text>
<text x="293.50" y="258.70" font-size="11.8" text-anchor="middle" font-weight="normal" fill="#222" textLength="27.5" lengthAdjust="spacingAndGlyphs">IFN-<tspan font-family="Liberation Serif">γ</tspan></text>
<text transform="translate(201.10,327.00) rotate(-90)" x="0" y="0" font-size="10.8" text-anchor="middle" font-weight="normal" fill="#222" stroke="#222" stroke-width="0.4" textLength="112" lengthAdjust="spacingAndGlyphs">IFN-<tspan font-family="Liberation Serif">γ</tspan> concentration (pg/mL)</text>
<path d="M252.70 376.00L255.50 378.80L252.70 381.60L249.90 378.80Z" fill="#1c5a8c"/>
<path d="M253.50 376.00L256.30 378.80L253.50 381.60L250.70 378.80Z" fill="#1c5a8c"/>
<path d="M254.30 376.00L257.10 378.80L254.30 381.60L251.50 378.80Z" fill="#1c5a8c"/>
<line x1="262.70" y1="359.00" x2="262.70" y2="375.60" stroke="#c8103a" stroke-width="1.1" />
<line x1="259.30" y1="367.50" x2="266.10" y2="367.50" stroke="#222" stroke-width="1.3" />
<path d="M259.80 357.02L265.60 357.02L262.70 362.10Z" fill="#c8103a"/>
<path d="M259.80 360.52L265.60 360.52L262.70 365.60Z" fill="#c8103a"/>
<path d="M259.80 373.43L265.60 373.43L262.70 378.50Z" fill="#c8103a"/>
<path d="M276.70 297.00L279.50 299.80L276.70 302.60L273.90 299.80Z" fill="#1c5a8c"/>
<path d="M277.30 297.00L280.10 299.80L277.30 302.60L274.50 299.80Z" fill="#1c5a8c"/>
<path d="M277.90 297.00L280.70 299.80L277.90 302.60L275.10 299.80Z" fill="#1c5a8c"/>
<path d="M282.10 297.43L287.90 297.43L285.00 302.50Z" fill="#c8103a"/>
<path d="M282.70 297.43L288.50 297.43L285.60 302.50Z" fill="#c8103a"/>
<path d="M283.30 297.43L289.10 297.43L286.20 302.50Z" fill="#c8103a"/>
<text x="277.00" y="296.60" font-size="10.4" text-anchor="middle" font-weight="normal" fill="#222" >+</text>
<text x="286.30" y="296.60" font-size="10.4" text-anchor="middle" font-weight="normal" fill="#222" >+</text>
<text x="296.00" y="296.60" font-size="10.4" text-anchor="middle" font-weight="normal" fill="#222" >+</text>
<line x1="300.40" y1="293.00" x2="300.40" y2="323.50" stroke="#1c5a8c" stroke-width="1.1" />
<line x1="297.00" y1="307.70" x2="303.80" y2="307.70" stroke="#222" stroke-width="1.3" />
<path d="M300.40 296.20L303.20 299.00L300.40 301.80L297.60 299.00Z" fill="#1c5a8c"/>
<path d="M300.40 298.20L303.20 301.00L300.40 303.80L297.60 301.00Z" fill="#1c5a8c"/>
<path d="M300.40 320.70L303.20 323.50L300.40 326.30L297.60 323.50Z" fill="#1c5a8c"/>
<line x1="309.20" y1="311.00" x2="309.20" y2="356.70" stroke="#c8103a" stroke-width="1.1" />
<line x1="305.80" y1="335.40" x2="312.60" y2="335.40" stroke="#222" stroke-width="1.3" />
<path d="M306.30 315.12L312.10 315.12L309.20 320.20Z" fill="#c8103a"/>
<path d="M306.30 328.02L312.10 328.02L309.20 333.10Z" fill="#c8103a"/>
<path d="M306.30 354.52L312.10 354.52L309.20 359.60Z" fill="#c8103a"/>
<line x1="323.30" y1="348.00" x2="323.30" y2="370.80" stroke="#1c5a8c" stroke-width="1.1" />
<line x1="319.90" y1="360.20" x2="326.70" y2="360.20" stroke="#222" stroke-width="1.3" />
<path d="M323.30 345.20L326.10 348.00L323.30 350.80L320.50 348.00Z" fill="#1c5a8c"/>
<path d="M323.30 358.70L326.10 361.50L323.30 364.30L320.50 361.50Z" fill="#1c5a8c"/>
<path d="M323.30 368.00L326.10 370.80L323.30 373.60L320.50 370.80Z" fill="#1c5a8c"/>
<line x1="332.50" y1="344.20" x2="332.50" y2="375.60" stroke="#c8103a" stroke-width="1.1" />
<line x1="329.10" y1="358.80" x2="335.90" y2="358.80" stroke="#222" stroke-width="1.3" />
<path d="M329.60 342.02L335.40 342.02L332.50 347.10Z" fill="#c8103a"/>
<path d="M329.60 350.82L335.40 350.82L332.50 355.90Z" fill="#c8103a"/>
<path d="M329.60 373.43L335.40 373.43L332.50 378.50Z" fill="#c8103a"/>
<path d="M253.50 376.00L253.50 282.10L262.70 282.10L262.70 355.00" fill="none" stroke="#222" stroke-width="1.1"/>
<text x="258.10" y="279.30" font-size="10" text-anchor="middle" font-weight="normal" fill="#222" >ns</text>
<path d="M300.40 290.00L300.40 282.10L309.20 282.10L309.20 311.00" fill="none" stroke="#222" stroke-width="1.1"/>
<text x="304.60" y="280.60" font-size="10" text-anchor="middle" font-weight="normal" fill="#222" >*</text>
<path d="M323.50 344.00L323.50 282.10L332.70 282.10L332.70 340.00" fill="none" stroke="#222" stroke-width="1.1"/>
<text x="328.00" y="279.30" font-size="10" text-anchor="middle" font-weight="normal" fill="#222" >ns</text>
<path d="M345.00 277.00L347.40 279.40L345.00 281.80L342.60 279.40Z" fill="#1c5a8c"/>
<text x="351.90" y="282.80" font-size="10.1" text-anchor="start" font-weight="normal" fill="#222" >Untreated</text>
<path d="M342.40 292.65L347.60 292.65L345.00 297.20Z" fill="#c8103a"/>
<text x="351.90" y="298.10" font-size="10.1" text-anchor="start" font-weight="normal" fill="#222" textLength="51.9" lengthAdjust="spacingAndGlyphs">SKOV3/Zol</text>
<text x="9.40" y="477.00" font-size="14.8" text-anchor="start" font-weight="bold" fill="#111" stroke="#111" stroke-width="0.5">C</text>
<line x1="65.20" y1="482.80" x2="65.20" y2="602.30" stroke="#111" stroke-width="1.3" />
<line x1="64.60" y1="601.70" x2="231.40" y2="601.70" stroke="#111" stroke-width="1.3" />
<line x1="60.80" y1="601.70" x2="65.20" y2="601.70" stroke="#111" stroke-width="1.2" />
<text x="55.60" y="605.30" font-size="10.2" text-anchor="end" font-weight="normal" fill="#222" >0</text>
<line x1="60.80" y1="578.90" x2="65.20" y2="578.90" stroke="#111" stroke-width="1.2" />
<text x="55.60" y="582.50" font-size="10.2" text-anchor="end" font-weight="normal" fill="#222" >20</text>
<line x1="60.80" y1="556.10" x2="65.20" y2="556.10" stroke="#111" stroke-width="1.2" />
<text x="55.60" y="559.70" font-size="10.2" text-anchor="end" font-weight="normal" fill="#222" >40</text>
<line x1="60.80" y1="533.30" x2="65.20" y2="533.30" stroke="#111" stroke-width="1.2" />
<text x="55.60" y="536.90" font-size="10.2" text-anchor="end" font-weight="normal" fill="#222" >60</text>
<line x1="60.80" y1="510.50" x2="65.20" y2="510.50" stroke="#111" stroke-width="1.2" />
<text x="55.60" y="514.10" font-size="10.2" text-anchor="end" font-weight="normal" fill="#222" >80</text>
<line x1="60.80" y1="487.70" x2="65.20" y2="487.70" stroke="#111" stroke-width="1.2" />
<text x="55.60" y="491.30" font-size="10.2" text-anchor="end" font-weight="normal" fill="#222" >100</text>
<line x1="73.10" y1="601.70" x2="73.10" y2="606.20" stroke="#111" stroke-width="1.2" />
<text x="73.10" y="621.00" font-size="10.2" text-anchor="middle" font-weight="normal" fill="#222" >0.001</text>
<line x1="100.60" y1="601.70" x2="100.60" y2="606.20" stroke="#111" stroke-width="1.2" />
<text x="100.60" y="621.00" font-size="10.2" text-anchor="middle" font-weight="normal" fill="#222" >0.01</text>
<line x1="128.10" y1="601.70" x2="128.10" y2="606.20" stroke="#111" stroke-width="1.2" />
<text x="128.10" y="621.00" font-size="10.2" text-anchor="middle" font-weight="normal" fill="#222" >0.1</text>
<line x1="155.60" y1="601.70" x2="155.60" y2="606.20" stroke="#111" stroke-width="1.2" />
<text x="155.60" y="621.00" font-size="10.2" text-anchor="middle" font-weight="normal" fill="#222" >1</text>
<line x1="183.10" y1="601.70" x2="183.10" y2="606.20" stroke="#111" stroke-width="1.2" />
<text x="183.10" y="621.00" font-size="10.2" text-anchor="middle" font-weight="normal" fill="#222" >10</text>
<line x1="210.60" y1="601.70" x2="210.60" y2="606.20" stroke="#111" stroke-width="1.2" />
<text x="210.60" y="621.00" font-size="10.2" text-anchor="middle" font-weight="normal" fill="#222" >100</text>
<text x="100.4" y="638.9" font-size="12.2" fill="#222" stroke="#222" stroke-width="0.35" textLength="94.6" lengthAdjust="spacingAndGlyphs">mAb concentration (nM)</text>
<text transform="translate(31.10,543.20) rotate(-90)" x="0" y="0" font-size="10.8" text-anchor="middle" font-weight="normal" fill="#222" stroke="#222" stroke-width="0.4" textLength="117.6" lengthAdjust="spacingAndGlyphs">%CD107a+ of V<tspan font-family="Liberation Serif">γ</tspan>9V<tspan font-family="Liberation Serif">δ</tspan>2 T cells</text>
<line x1="66.2" y1="525.9" x2="230.5" y2="525.9" stroke="#1c5a8c" stroke-width="1.5" stroke-dasharray="5 3"/>
<line x1="66.2" y1="582.7" x2="230.5" y2="582.7" stroke="#c8103a" stroke-width="1.5" stroke-dasharray="5 3"/>
<circle cx="64.30" cy="598.60" r="2.6" fill="#1c5a8c"/>
<rect x="61.80" y="596.10" width="5.00" height="5.00" fill="#1c5a8c"/>
<circle cx="100.60" cy="598.60" r="2.6" fill="#1c5a8c"/>
<rect x="98.10" y="596.10" width="5.00" height="5.00" fill="#1c5a8c"/>
<circle cx="128.10" cy="598.60" r="2.6" fill="#1c5a8c"/>
<rect x="125.60" y="596.10" width="5.00" height="5.00" fill="#1c5a8c"/>
<rect x="125.50" y="592.70" width="5.20" height="5.20" fill="#1c5a8c"/>
<rect x="61.60" y="595.30" width="5.40" height="5.40" fill="#c8103a"/>
<rect x="97.90" y="595.30" width="5.40" height="5.40" fill="#c8103a"/>
<rect x="125.40" y="594.60" width="5.40" height="5.40" fill="#c8103a"/>
<polyline points="64.02,598.84 65.40,598.84 66.77,598.84 68.15,598.84 69.52,598.84 70.90,598.84 72.27,598.84 73.65,598.84 75.02,598.83 76.40,598.83 77.77,598.83 79.15,598.83 80.52,598.82 81.90,598.82 83.27,598.82 84.65,598.81 86.02,598.81 87.40,598.80 88.77,598.79 90.15,598.78 91.52,598.78 92.90,598.77 94.27,598.75 95.65,598.74 97.02,598.73 98.40,598.71 99.77,598.69 101.15,598.67 102.52,598.65 103.90,598.62 105.27,598.59 106.65,598.55 108.02,598.51 109.40,598.47 110.77,598.42 112.15,598.36 113.52,598.30 114.90,598.22 116.27,598.14 117.65,598.04 119.02,597.94 120.40,597.82 121.77,597.68 123.15,597.52 124.52,597.35 125.90,597.16 127.27,596.94 128.65,596.69 130.02,596.41 131.40,596.10 132.77,595.76 134.15,595.37 135.52,594.94 136.90,594.45 138.27,593.92 139.65,593.33 141.02,592.68 142.40,591.97 143.77,591.19 145.15,590.33 146.52,589.41 147.90,588.41 149.27,587.33 150.65,586.18 152.02,584.96 153.40,583.68 154.77,582.33 156.15,580.92 157.52,579.47 158.90,577.98 160.27,576.46 161.65,574.93 163.02,573.40 164.40,571.88 165.77,570.37 167.15,568.91 168.52,567.48 169.90,566.11 171.27,564.79 172.65,563.55 174.02,562.37 175.40,561.26 176.77,560.23 178.15,559.28 179.52,558.40 180.90,557.59 182.27,556.85 183.65,556.17 185.02,555.56 186.40,555.00 187.77,554.50 189.15,554.05 190.52,553.64 191.90,553.28 193.27,552.96 194.65,552.67 196.02,552.41 197.40,552.18 198.77,551.97 200.15,551.79 201.52,551.63 202.90,551.49 204.27,551.36 205.65,551.25 207.02,551.15 208.40,551.06 209.77,550.98" fill="none" stroke="#c8103a" stroke-width="1.3"/>
<polyline points="64.02,598.85 65.40,598.85 66.77,598.85 68.15,598.85 69.52,598.85 70.90,598.85 72.27,598.85 73.65,598.84 75.02,598.84 76.40,598.84 77.77,598.84 79.15,598.84 80.52,598.84 81.90,598.84 83.27,598.84 84.65,598.84 86.02,598.84 87.40,598.83 88.77,598.83 90.15,598.83 91.52,598.83 92.90,598.83 94.27,598.82 95.65,598.82 97.02,598.82 98.40,598.81 99.77,598.81 101.15,598.80 102.52,598.80 103.90,598.79 105.27,598.79 106.65,598.78 108.02,598.77 109.40,598.76 110.77,598.75 112.15,598.74 113.52,598.73 114.90,598.72 116.27,598.70 117.65,598.68 119.02,598.66 120.40,598.64 121.77,598.62 123.15,598.59 124.52,598.56 125.90,598.53 127.27,598.49 128.65,598.45 130.02,598.41 131.40,598.35 132.77,598.30 134.15,598.23 135.52,598.17 136.90,598.09 138.27,598.00 139.65,597.91 141.02,597.80 142.40,597.68 143.77,597.55 145.15,597.41 146.52,597.25 147.90,597.07 149.27,596.88 150.65,596.66 152.02,596.42 153.40,596.16 154.77,595.88 156.15,595.56 157.52,595.22 158.90,594.84 160.27,594.43 161.65,593.99 163.02,593.50 164.40,592.98 165.77,592.42 167.15,591.81 168.52,591.16 169.90,590.47 171.27,589.73 172.65,588.95 174.02,588.13 175.40,587.26 176.77,586.36 178.15,585.43 179.52,584.46 180.90,583.47 182.27,582.45 183.65,581.42 185.02,580.38 186.40,579.34 187.77,578.30 189.15,577.26 190.52,576.24 191.90,575.25 193.27,574.27 194.65,573.33 196.02,572.42 197.40,571.55 198.77,570.72 200.15,569.93 201.52,569.19 202.90,568.48 204.27,567.82 205.65,567.21 207.02,566.64 208.40,566.11 209.77,565.62" fill="none" stroke="#c8103a" stroke-width="1.3"/>
<polyline points="64.02,598.84 65.40,598.84 66.77,598.83 68.15,598.83 69.52,598.83 70.90,598.83 72.27,598.82 73.65,598.82 75.02,598.81 76.40,598.81 77.77,598.80 79.15,598.79 80.52,598.78 81.90,598.77 83.27,598.76 84.65,598.74 86.02,598.73 87.40,598.71 88.77,598.69 90.15,598.66 91.52,598.63 92.90,598.60 94.27,598.56 95.65,598.52 97.02,598.47 98.40,598.41 99.77,598.34 101.15,598.26 102.52,598.17 103.90,598.07 105.27,597.95 106.65,597.81 108.02,597.65 109.40,597.47 110.77,597.26 112.15,597.02 113.52,596.74 114.90,596.42 116.27,596.06 117.65,595.64 119.02,595.17 120.40,594.63 121.77,594.01 123.15,593.31 124.52,592.52 125.90,591.62 127.27,590.61 128.65,589.47 130.02,588.20 131.40,586.78 132.77,585.21 134.15,583.47 135.52,581.57 136.90,579.50 138.27,577.25 139.65,574.84 141.02,572.27 142.40,569.56 143.77,566.72 145.15,563.77 146.52,560.75 147.90,557.67 149.27,554.58 150.65,551.49 152.02,548.46 153.40,545.49 154.77,542.63 156.15,539.89 157.52,537.29 158.90,534.85 160.27,532.57 161.65,530.46 163.02,528.52 164.40,526.76 165.77,525.15 167.15,523.70 168.52,522.40 169.90,521.24 171.27,520.20 172.65,519.28 174.02,518.47 175.40,517.75 176.77,517.12 178.15,516.56 179.52,516.08 180.90,515.65 182.27,515.28 183.65,514.95 185.02,514.66 186.40,514.42 187.77,514.20 189.15,514.01 190.52,513.85 191.90,513.71 193.27,513.58 194.65,513.48 196.02,513.39 197.40,513.30 198.77,513.23 200.15,513.17 201.52,513.12 202.90,513.08 204.27,513.04 205.65,513.00 207.02,512.97 208.40,512.95 209.77,512.92" fill="none" stroke="#1c5a8c" stroke-width="1.3"/>
<polyline points="64.02,598.84 65.40,598.84 66.77,598.84 68.15,598.84 69.52,598.83 70.90,598.83 72.27,598.83 73.65,598.83 75.02,598.82 76.40,598.82 77.77,598.82 79.15,598.81 80.52,598.81 81.90,598.80 83.27,598.80 84.65,598.79 86.02,598.78 87.40,598.77 88.77,598.76 90.15,598.75 91.52,598.74 92.90,598.72 94.27,598.70 95.65,598.68 97.02,598.66 98.40,598.63 99.77,598.61 101.15,598.57 102.52,598.54 103.90,598.49 105.27,598.45 106.65,598.39 108.02,598.33 109.40,598.26 110.77,598.18 112.15,598.09 113.52,597.99 114.90,597.88 116.27,597.75 117.65,597.60 119.02,597.43 120.40,597.25 121.77,597.04 123.15,596.80 124.52,596.53 125.90,596.22 127.27,595.88 128.65,595.50 130.02,595.07 131.40,594.59 132.77,594.05 134.15,593.45 135.52,592.78 136.90,592.03 138.27,591.20 139.65,590.28 141.02,589.27 142.40,588.15 143.77,586.93 145.15,585.60 146.52,584.15 147.90,582.59 149.27,580.91 150.65,579.11 152.02,577.19 153.40,575.17 154.77,573.04 156.15,570.83 157.52,568.53 158.90,566.18 160.27,563.78 161.65,561.35 163.02,558.91 164.40,556.49 165.77,554.10 167.15,551.75 168.52,549.47 169.90,547.28 171.27,545.17 172.65,543.17 174.02,541.27 175.40,539.50 176.77,537.84 178.15,536.30 179.52,534.87 180.90,533.56 182.27,532.36 183.65,531.27 185.02,530.28 186.40,529.38 187.77,528.57 189.15,527.83 190.52,527.18 191.90,526.59 193.27,526.06 194.65,525.59 196.02,525.17 197.40,524.79 198.77,524.46 200.15,524.17 201.52,523.90 202.90,523.67 204.27,523.46 205.65,523.28 207.02,523.12 208.40,522.98 209.77,522.85" fill="none" stroke="#1c5a8c" stroke-width="1.3"/>
<line x1="183.10" y1="539.20" x2="183.10" y2="569.40" stroke="#c8103a" stroke-width="1.3" />
<line x1="180.50" y1="539.20" x2="185.70" y2="539.20" stroke="#c8103a" stroke-width="1.3" />
<line x1="180.50" y1="569.40" x2="185.70" y2="569.40" stroke="#c8103a" stroke-width="1.3" />
<line x1="210.60" y1="539.60" x2="210.60" y2="564.00" stroke="#c8103a" stroke-width="1.3" />
<line x1="208.00" y1="539.60" x2="213.20" y2="539.60" stroke="#c8103a" stroke-width="1.3" />
<line x1="208.00" y1="564.00" x2="213.20" y2="564.00" stroke="#c8103a" stroke-width="1.3" />
<line x1="183.10" y1="575.60" x2="183.10" y2="590.60" stroke="#c8103a" stroke-width="1.3" />
<line x1="180.50" y1="575.60" x2="185.70" y2="575.60" stroke="#c8103a" stroke-width="1.3" />
<line x1="180.50" y1="590.60" x2="185.70" y2="590.60" stroke="#c8103a" stroke-width="1.3" />
<line x1="210.60" y1="553.00" x2="210.60" y2="576.80" stroke="#c8103a" stroke-width="1.3" />
<line x1="208.00" y1="553.00" x2="213.20" y2="553.00" stroke="#c8103a" stroke-width="1.3" />
<line x1="208.00" y1="576.80" x2="213.20" y2="576.80" stroke="#c8103a" stroke-width="1.3" />
<line x1="155.60" y1="590.00" x2="155.60" y2="597.50" stroke="#c8103a" stroke-width="1.3" />
<line x1="153.00" y1="590.00" x2="158.20" y2="590.00" stroke="#c8103a" stroke-width="1.3" />
<line x1="153.00" y1="597.50" x2="158.20" y2="597.50" stroke="#c8103a" stroke-width="1.3" />
<circle cx="155.60" cy="536.50" r="2.9" fill="#1c5a8c"/>
<circle cx="183.10" cy="518.70" r="2.9" fill="#1c5a8c"/>
<circle cx="210.60" cy="513.80" r="2.9" fill="#1c5a8c"/>
<rect x="152.90" y="568.80" width="5.40" height="5.40" fill="#1c5a8c"/>
<rect x="180.40" y="529.90" width="5.40" height="5.40" fill="#1c5a8c"/>
<rect x="207.90" y="520.60" width="5.40" height="5.40" fill="#1c5a8c"/>
<circle cx="155.60" cy="582.00" r="2.9" fill="#c8103a"/>
<circle cx="183.10" cy="553.80" r="2.9" fill="#c8103a"/>
<circle cx="210.60" cy="551.90" r="2.9" fill="#c8103a"/>
<rect x="152.90" y="591.30" width="5.40" height="5.40" fill="#c8103a"/>
<rect x="180.40" y="580.30" width="5.40" height="5.40" fill="#c8103a"/>
<rect x="207.90" y="563.00" width="5.40" height="5.40" fill="#c8103a"/>
<text x="240.00" y="493.80" font-size="10.2" text-anchor="start" font-weight="normal" fill="#222" >Untreated</text>
<line x1="240.00" y1="495.00" x2="284.80" y2="495.00" stroke="#444" stroke-width="0.8" />
<line x1="240.00" y1="507.70" x2="245.00" y2="507.70" stroke="#1c5a8c" stroke-width="1.4" />
<line x1="247.60" y1="507.70" x2="252.60" y2="507.70" stroke="#1c5a8c" stroke-width="1.4" />
<text x="257.30" y="511.30" font-size="10.2" text-anchor="start" font-weight="normal" fill="#222" >+ PHA</text>
<line x1="240.00" y1="525.60" x2="253.20" y2="525.60" stroke="#1c5a8c" stroke-width="1.4" />
<circle cx="246.60" cy="525.60" r="2.6" fill="#1c5a8c"/>
<text x="257.30" y="529.20" font-size="10.2" text-anchor="start" font-weight="normal" fill="#222" >+ UCHT1</text>
<line x1="240.00" y1="543.10" x2="253.20" y2="543.10" stroke="#1c5a8c" stroke-width="1.4" />
<rect x="244.10" y="540.60" width="5.00" height="5.00" fill="#1c5a8c"/>
<text x="257.30" y="546.70" font-size="10.2" text-anchor="start" font-weight="normal" fill="#222" >+ OKT3</text>
<text x="240.00" y="565.20" font-size="10.2" text-anchor="start" font-weight="normal" fill="#222" textLength="53.1" lengthAdjust="spacingAndGlyphs">SKOV3/Zol</text>
<line x1="240.00" y1="566.40" x2="293.10" y2="566.40" stroke="#444" stroke-width="0.8" />
<line x1="240.00" y1="579.60" x2="245.00" y2="579.60" stroke="#c8103a" stroke-width="1.4" />
<line x1="247.60" y1="579.60" x2="252.60" y2="579.60" stroke="#c8103a" stroke-width="1.4" />
<text x="257.30" y="583.20" font-size="10.2" text-anchor="start" font-weight="normal" fill="#222" >+ PHA</text>
<line x1="240.00" y1="597.50" x2="253.20" y2="597.50" stroke="#c8103a" stroke-width="1.4" />
<circle cx="246.60" cy="597.50" r="2.6" fill="#c8103a"/>
<text x="257.30" y="601.10" font-size="10.2" text-anchor="start" font-weight="normal" fill="#222" >+ UCHT1</text>
<line x1="240.00" y1="614.80" x2="253.20" y2="614.80" stroke="#c8103a" stroke-width="1.4" />
<rect x="244.10" y="612.30" width="5.00" height="5.00" fill="#c8103a"/>
<text x="257.30" y="618.40" font-size="10.2" text-anchor="start" font-weight="normal" fill="#222" >+ OKT3</text>
<text x="320.20" y="476.90" font-size="14.8" text-anchor="start" font-weight="bold" fill="#111" stroke="#111" stroke-width="0.5">D</text>
<line x1="375.60" y1="503.00" x2="375.60" y2="598.40" stroke="#111" stroke-width="1.3" />
<line x1="375.00" y1="597.80" x2="442.80" y2="597.80" stroke="#111" stroke-width="1.3" />
<line x1="371.00" y1="506.70" x2="375.60" y2="506.70" stroke="#111" stroke-width="1.2" />
<text x="366.80" y="510.30" font-size="10.4" text-anchor="end" font-weight="normal" fill="#222" >100</text>
<line x1="371.00" y1="537.20" x2="375.60" y2="537.20" stroke="#111" stroke-width="1.2" />
<text x="366.80" y="540.80" font-size="10.4" text-anchor="end" font-weight="normal" fill="#222" >10</text>
<line x1="371.00" y1="567.70" x2="375.60" y2="567.70" stroke="#111" stroke-width="1.2" />
<text x="366.80" y="571.30" font-size="10.4" text-anchor="end" font-weight="normal" fill="#222" >1</text>
<line x1="371.00" y1="598.20" x2="375.60" y2="598.20" stroke="#111" stroke-width="1.2" />
<text x="366.80" y="601.80" font-size="10.4" text-anchor="end" font-weight="normal" fill="#222" >0.1</text>
<line x1="391.20" y1="597.80" x2="391.20" y2="602.60" stroke="#111" stroke-width="1.2" />
<line x1="426.20" y1="597.80" x2="426.20" y2="602.60" stroke="#111" stroke-width="1.2" />
<text transform="translate(395.40,611.90) rotate(-45)" font-size="10.2" text-anchor="end" fill="#222">UCHT1</text>
<text transform="translate(430.40,611.90) rotate(-45)" font-size="10.2" text-anchor="end" fill="#222">OKT3</text>
<text x="396.00" y="490.60" font-size="10.4" text-anchor="start" font-weight="normal" fill="#222" >EC</text>
<text x="410.60" y="493.60" font-size="10.0" text-anchor="start" font-weight="normal" fill="#222" >50</text>
<text transform="translate(341.60,549.20) rotate(-90)" x="0" y="0" font-size="12.0" text-anchor="middle" font-weight="normal" fill="#222" stroke="#222" stroke-width="0.4" textLength="126.4" lengthAdjust="spacingAndGlyphs">EC<tspan font-size="9" dy="2.6">50</tspan><tspan dy="-2.6"> of V</tspan><tspan font-family="Liberation Serif">γ</tspan>9V<tspan font-family="Liberation Serif">δ</tspan>2 T cell activation</text>
<rect x="380.40" y="575.90" width="8.70" height="21.90" fill="#1c5a8c" stroke="#124470" stroke-width="0.6"/>
<rect x="393.60" y="555.90" width="8.40" height="41.90" fill="#c8103a" stroke="#9c0c2c" stroke-width="0.6"/>
<rect x="415.50" y="556.40" width="8.40" height="41.40" fill="#1c5a8c" stroke="#124470" stroke-width="0.6"/>
<rect x="428.70" y="528.70" width="8.30" height="69.10" fill="#c8103a" stroke="#9c0c2c" stroke-width="0.6"/>
<line x1="384.80" y1="571.00" x2="384.80" y2="578.00" stroke="#111" stroke-width="1" />
<circle cx="381.60" cy="573.00" r="1.7" fill="#111"/>
<circle cx="384.90" cy="573.50" r="1.7" fill="#111"/>
<circle cx="388.10" cy="574.60" r="1.7" fill="#111"/>
<circle cx="384.90" cy="581.50" r="1.7" fill="#111"/>
<line x1="397.60" y1="548.00" x2="397.60" y2="556.00" stroke="#111" stroke-width="1" />
<path d="M397.60 545.20L400.10 549.60L395.10 549.60Z" fill="#111"/>
<circle cx="397.60" cy="552.30" r="1.7" fill="#111"/>
<circle cx="397.60" cy="561.80" r="1.7" fill="#111"/>
<circle cx="397.60" cy="573.40" r="1.7" fill="#111"/>
<line x1="419.50" y1="549.00" x2="419.50" y2="557.00" stroke="#111" stroke-width="1" />
<path d="M419.50 546.20L422.00 550.60L417.00 550.60Z" fill="#111"/>
<circle cx="419.50" cy="556.00" r="1.7" fill="#111"/>
<circle cx="419.50" cy="561.80" r="1.7" fill="#111"/>
<circle cx="419.50" cy="565.10" r="1.7" fill="#111"/>
<line x1="433.00" y1="521.00" x2="433.00" y2="529.00" stroke="#111" stroke-width="1" />
<path d="M433.00 518.30L435.50 522.70L430.50 522.70Z" fill="#111"/>
<circle cx="433.00" cy="526.30" r="1.7" fill="#111"/>
<circle cx="433.00" cy="536.00" r="1.7" fill="#111"/>
<circle cx="433.00" cy="539.90" r="1.7" fill="#111"/>
<path d="M384.8 568.3L384.8 510.4L397.6 510.4L397.6 543.2" fill="none" stroke="#222" stroke-width="1.1"/>
<path d="M419.5 545.7L419.5 510.4L433.0 510.4L433.0 516.6" fill="none" stroke="#222" stroke-width="1.1"/>
<text x="391.40" y="509.60" font-size="11" text-anchor="middle" font-weight="normal" fill="#222" >**</text>
<text x="426.40" y="509.60" font-size="11" text-anchor="middle" font-weight="normal" fill="#222" >**</text>
<rect x="446.5" y="506.2" width="9.3" height="4.6" fill="#1c5a8c"/>
<text x="460.50" y="512.00" font-size="10.1" text-anchor="start" font-weight="normal" fill="#222" >Untreated</text>
<rect x="446.5" y="524.3" width="9.3" height="4.6" fill="#c8103a"/>
<text x="460.50" y="529.70" font-size="10.1" text-anchor="start" font-weight="normal" fill="#222" textLength="52.1" lengthAdjust="spacingAndGlyphs">SKOV3/Zol</text>
<rect x="0.6" y="0.6" width="518.8" height="649.8" fill="none" stroke="#2a2a2a" stroke-width="1.3"/>
</svg>
</body></html>
